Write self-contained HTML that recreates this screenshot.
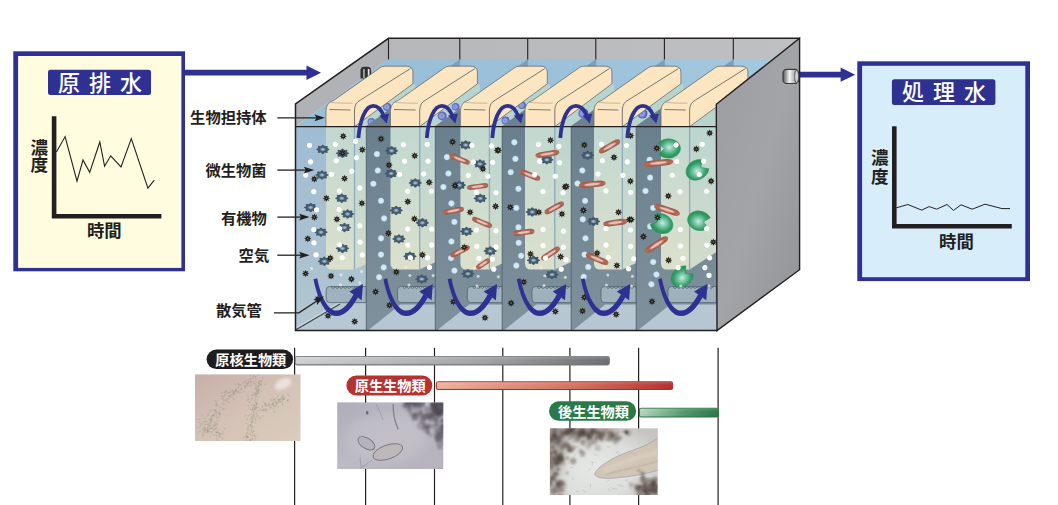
<!DOCTYPE html>
<html lang="ja"><head><meta charset="utf-8"><title>生物処理フロー</title>
<style>
html,body{margin:0;padding:0;background:#fff;overflow:hidden}
svg{display:block}
text{font-family:"Liberation Sans","Noto Sans CJK JP",sans-serif;font-weight:bold}
</style></head><body>
<svg width="1058" height="505" viewBox="0 0 1058 505">
<defs>
<linearGradient id="gWater" x1="0" y1="0" x2="0" y2="1"><stop offset="0" stop-color="#9fbcd4"/><stop offset="1" stop-color="#b3c5d0"/></linearGradient>
<linearGradient id="gSurf" gradientUnits="userSpaceOnUse" x1="295" y1="0" x2="800" y2="0"><stop offset="0" stop-color="#97bdd7"/><stop offset="0.55" stop-color="#9cc1da"/><stop offset="1" stop-color="#a5c9df"/></linearGradient>
<linearGradient id="gBlock" x1="0" y1="0" x2="0" y2="1"><stop offset="0" stop-color="#c1d8d0"/><stop offset="1" stop-color="#dbe0cc"/></linearGradient>
<linearGradient id="gSide" x1="0" y1="0" x2="0" y2="1"><stop offset="0" stop-color="#bbd5d0"/><stop offset="1" stop-color="#d3dccb"/></linearGradient>
<linearGradient id="gPart" x1="0" y1="0" x2="0" y2="1"><stop offset="0" stop-color="#6a7f8d"/><stop offset="1" stop-color="#7f919c"/></linearGradient>
<linearGradient id="gRWall" x1="0" y1="0" x2="1" y2="1"><stop offset="0" stop-color="#9c9da0"/><stop offset="0.5" stop-color="#a3a4a7"/><stop offset="1" stop-color="#929396"/></linearGradient>
<linearGradient id="gBack" x1="0" y1="0" x2="1" y2="0"><stop offset="0" stop-color="#b6b7ba"/><stop offset="1" stop-color="#bfc0c3"/></linearGradient>
<linearGradient id="gBarGray" x1="0" y1="0" x2="1" y2="0"><stop offset="0" stop-color="#cfd1d2"/><stop offset="0.6" stop-color="#a2a4a6"/><stop offset="1" stop-color="#6d6e71"/></linearGradient>
<linearGradient id="gBarRed" x1="0" y1="0" x2="1" y2="0"><stop offset="0" stop-color="#eeb39f"/><stop offset="0.6" stop-color="#d4705e"/><stop offset="1" stop-color="#b52f2e"/></linearGradient>
<linearGradient id="gBarGreen" x1="0" y1="0" x2="1" y2="0"><stop offset="0" stop-color="#b5d7bf"/><stop offset="0.6" stop-color="#4f9467"/><stop offset="1" stop-color="#27774a"/></linearGradient>
<linearGradient id="gBarShade" x1="0" y1="0" x2="0" y2="1"><stop offset="0" stop-color="#fff" stop-opacity="0.16"/><stop offset="0.45" stop-color="#fff" stop-opacity="0"/><stop offset="1" stop-color="#000" stop-opacity="0.07"/></linearGradient>
<radialGradient id="gGear" cx="0.5" cy="0.5" r="0.5"><stop offset="0" stop-color="#b4d6ea"/><stop offset="0.22" stop-color="#9fc3da"/><stop offset="0.5" stop-color="#5d7a91"/><stop offset="1" stop-color="#506b81"/></radialGradient>
<radialGradient id="gGearIn" cx="0.5" cy="0.5" r="0.5"><stop offset="0" stop-color="#b0cfe1"/><stop offset="0.4" stop-color="#88a8bd"/><stop offset="0.85" stop-color="#4f6578"/><stop offset="1" stop-color="#44596b"/></radialGradient>
<radialGradient id="gBub" cx="0.5" cy="0.5" r="0.5"><stop offset="0" stop-color="#fff"/><stop offset="0.7" stop-color="#fff"/><stop offset="1" stop-color="#fff" stop-opacity="0"/></radialGradient>
<radialGradient id="gBub2" cx="0.5" cy="0.5" r="0.5"><stop offset="0" stop-color="#d6eefb"/><stop offset="0.65" stop-color="#cbe6f6"/><stop offset="1" stop-color="#cbe6f6" stop-opacity="0"/></radialGradient>
<radialGradient id="gGreen" cx="0.5" cy="0.55" r="0.55"><stop offset="0" stop-color="#c9ece6"/><stop offset="0.3" stop-color="#86cdb0"/><stop offset="0.75" stop-color="#319c64"/><stop offset="1" stop-color="#2a9159"/></radialGradient>
<linearGradient id="gRod" x1="0" y1="0" x2="0" y2="1"><stop offset="0" stop-color="#a25644"/><stop offset="0.5" stop-color="#b56c5a"/><stop offset="1" stop-color="#a25644"/></linearGradient>
<radialGradient id="gSph" cx="0.45" cy="0.5" r="0.55"><stop offset="0" stop-color="#7683d2"/><stop offset="0.4" stop-color="#98a4e2"/><stop offset="0.7" stop-color="#6571c8"/><stop offset="1" stop-color="#4753b3"/></radialGradient>
<linearGradient id="gPipeS" x1="0" y1="0" x2="1" y2="0"><stop offset="0" stop-color="#58595b"/><stop offset="0.42" stop-color="#f4f4f4"/><stop offset="0.75" stop-color="#a9aaac"/><stop offset="1" stop-color="#6b6c6e"/></linearGradient>
<linearGradient id="gPh1" x1="0" y1="0" x2="1" y2="1"><stop offset="0" stop-color="#c7afa9"/><stop offset="0.5" stop-color="#d4c2b6"/><stop offset="1" stop-color="#d9cdbb"/></linearGradient>
<linearGradient id="gPh2" x1="0" y1="0" x2="1" y2="1"><stop offset="0" stop-color="#aeadb9"/><stop offset="0.5" stop-color="#bcbac4"/><stop offset="1" stop-color="#b7b2bb"/></linearGradient>
<radialGradient id="gPh3" cx="0.42" cy="0.6" r="0.7"><stop offset="0" stop-color="#e6e8e5"/><stop offset="0.6" stop-color="#dcdedb"/><stop offset="1" stop-color="#c6c5c2"/></radialGradient>
<filter id="blur1" x="-20%" y="-20%" width="140%" height="140%"><feGaussianBlur stdDeviation="1.6"/></filter>
<filter id="blur3" x="-30%" y="-30%" width="160%" height="160%"><feGaussianBlur stdDeviation="5"/></filter>
<filter id="blur08" x="-30%" y="-30%" width="160%" height="160%"><feGaussianBlur stdDeviation="0.9"/></filter>
<filter id="gblur1" filterUnits="userSpaceOnUse" x="330" y="395" width="125" height="85"><feGaussianBlur stdDeviation="1.1"/></filter>
<filter id="gblur08" filterUnits="userSpaceOnUse" x="540" y="420" width="130" height="85"><feGaussianBlur stdDeviation="0.9"/></filter>
<filter id="blur05" x="-20%" y="-20%" width="140%" height="140%"><feGaussianBlur stdDeviation="0.5"/></filter>

<g id="gear"><path d="M6.7 0 L6.4 0.4 L5.7 0.8 L5 1.1 L4.6 1.3 L4.6 1.7 L4.8 2.3 L5 2.9 L4.7 3.3 L4.1 3.5 L3.2 3.4 L2.4 3.2 L1.9 3.2 L1.5 3.5 L1.1 4 L0.6 4.5 L0 4.7 L-0.6 4.5 L-1.1 4 L-1.5 3.5 L-1.9 3.2 L-2.4 3.2 L-3.2 3.4 L-4.1 3.5 L-4.7 3.3 L-5 2.9 L-4.8 2.3 L-4.6 1.7 L-4.6 1.3 L-5 1.1 L-5.7 0.8 L-6.4 0.4 L-6.7 0 L-6.4 -0.4 L-5.7 -0.8 L-5 -1.1 L-4.6 -1.3 L-4.6 -1.7 L-4.8 -2.3 L-5 -2.9 L-4.7 -3.3 L-4.1 -3.5 L-3.2 -3.4 L-2.4 -3.2 L-1.9 -3.2 L-1.5 -3.5 L-1.1 -4 L-0.6 -4.5 L-0 -4.7 L0.6 -4.5 L1.1 -4 L1.5 -3.5 L1.9 -3.2 L2.4 -3.2 L3.2 -3.4 L4.1 -3.5 L4.7 -3.3 L5 -2.9 L4.8 -2.3 L4.6 -1.7 L4.6 -1.3 L5 -1.1 L5.7 -0.8 L6.4 -0.4 L6.7 -0Z" fill="#44596b"/><ellipse rx="3.3" ry="2.3" fill="url(#gGearIn)"/></g>
<g id="star"><path d="M0 -3.8 L0.8 -1.8 L2.7 -2.7 L1.8 -0.8 L3.8 0 L1.8 0.8 L2.7 2.7 L0.8 1.8 L0 3.8 L-0.8 1.8 L-2.7 2.7 L-1.8 0.8 L-3.8 0 L-1.8 -0.8 L-2.7 -2.7 L-0.8 -1.8Z" fill="#1f1d1c"/><circle r="0.8" fill="#93863a"/></g>
<circle id="bub" r="3.1" fill="url(#gBub)"/>
<circle id="bub2" r="3.6" fill="url(#gBub2)"/>
<g id="rod"><rect x="-13.5" y="-2.6" width="27" height="5.2" rx="6" ry="2.6" fill="url(#gRod)"/><ellipse rx="8" ry="1.25" fill="#f0dbd4" opacity="0.8" filter="url(#blur05)"/></g>
<g id="pac"><path d="M5 -0.3 L10.5 -5.9 A12 9.7 0 1 0 11.1 4.9 Z" fill="url(#gGreen)" stroke="#2a9159" stroke-width="0.5" stroke-linejoin="round"/></g>
<clipPath id="clipFront"><rect x="295.5" y="126.6" width="420.8" height="204"/></clipPath>
</defs>
<rect width="1058" height="505" fill="#ffffff"/>
<rect x="13.3" y="51.3" width="171.7" height="220" fill="#2e3192"/>
<rect x="18.1" y="56" width="163.3" height="211.9" fill="#fffce0"/>
<rect x="48" y="69.7" width="103" height="25.3" rx="2.5" fill="#2e3192"/>
<text x="104.5" y="90.5" font-size="22" fill="#fff" text-anchor="middle" letter-spacing="9" style="font-weight:500">原排水</text>
<path d="M54.1 116.2 V216.3 H161.4" fill="none" stroke="#231f20" stroke-width="4.6"/>
<polyline points="56.4,151.9 65.1,136.6 77,181.2 83,160 89.7,172.3 99.8,142 104.6,166.3 110.7,155.8 121,166.9 131.3,138.6 147.9,188.1 154.3,180.2" fill="none" stroke="#231f20" stroke-width="1.1"/>
<text x="39.3" y="154.2" font-size="17.6" fill="#231f20" text-anchor="middle">濃</text>
<text x="39.3" y="171.4" font-size="17.6" fill="#231f20" text-anchor="middle">度</text>
<text x="104.3" y="237.4" font-size="17.4" fill="#231f20" text-anchor="middle">時間</text>
<rect x="857.3" y="61.3" width="172.7" height="219.8" fill="#2e3192"/>
<rect x="862.1" y="65.8" width="163.2" height="211.4" fill="#d7edfa"/>
<rect x="891.9" y="79.3" width="103.5" height="25.7" rx="2.5" fill="#2e3192"/>
<text x="948.6" y="100.1" font-size="22" fill="#fff" text-anchor="middle" letter-spacing="9" style="font-weight:500">処理水</text>
<path d="M894.3 126.2 V226.3 H1011.8" fill="none" stroke="#231f20" stroke-width="4.6"/>
<polyline points="896.5,207.8 907.8,204.5 921.7,210.1 929.2,206.6 936.6,209.2 947,204.5 953.5,210.4 961,204.8 972.2,209.2 985,204.2 1002,208.6 1010,208.6" fill="none" stroke="#231f20" stroke-width="1"/>
<text x="879.9" y="163.8" font-size="17.6" fill="#231f20" text-anchor="middle">濃</text>
<text x="879.9" y="182.5" font-size="17.6" fill="#231f20" text-anchor="middle">度</text>
<text x="956.4" y="247.6" font-size="17.4" fill="#231f20" text-anchor="middle">時間</text>
<path d="M185 69.8 H306.5 V65.5 L321 72.7 L306.5 79.9 V75.6 H185Z" fill="#2e3192"/>
<path d="M800 71.8 H840.6 V67.6 L855.2 74.7 L840.6 81.8 V77.6 H800Z" fill="#2e3192"/>
<g id="tank">
<rect x="388.5" y="38.3" width="411.1" height="21.2" fill="url(#gBack)"/>
<polygon points="295.5,104 388.5,38.3 388.5,59.5 295.5,126.6" fill="#b1b2b5"/>
<polygon points="295.5,126.6 388.5,59.1 799.6,59.1 716.3,126.6" fill="url(#gSurf)"/>
<polygon points="460.2,58.9 460.2,67 449,67" fill="#7da0b8"/>
<line x1="459.8" y1="38.3" x2="459.8" y2="59.6" stroke="#231f20" stroke-width="1.1"/>
<polygon points="528.1,58.9 528.1,67 516.9,67" fill="#7da0b8"/>
<line x1="527.7" y1="38.3" x2="527.7" y2="59.6" stroke="#231f20" stroke-width="1.1"/>
<polygon points="596.2,58.9 596.2,67 585,67" fill="#7da0b8"/>
<line x1="595.8" y1="38.3" x2="595.8" y2="59.6" stroke="#231f20" stroke-width="1.1"/>
<polygon points="664.8,58.9 664.8,67 653.6,67" fill="#7da0b8"/>
<line x1="664.4" y1="38.3" x2="664.4" y2="59.6" stroke="#231f20" stroke-width="1.1"/>
<polygon points="733.7,58.9 733.7,67 722.5,67" fill="#7da0b8"/>
<line x1="733.3" y1="38.3" x2="733.3" y2="59.6" stroke="#231f20" stroke-width="1.1"/>
<line x1="388.5" y1="38.3" x2="388.5" y2="59.4" stroke="#231f20" stroke-width="1.1"/>
<g transform="translate(365.8 72.6)"><path d="M-5.3 6 V-2.2 Q-5.3 -5.9 -1.4 -5.9 H1.6 Q5.3 -5.9 5.3 -2.2 V6Z" fill="#2f2f31"/><rect x="-2.6" y="-3.6" width="1.5" height="9" fill="#b9b9bb"/><rect x="2" y="-3.6" width="1.7" height="9" fill="#e9e9ea"/></g>
<polygon points="354.5,126.6 412.9,83.8 415.4,84.8 415.4,92.2 366.3,126.6" fill="#b8d4ce"/>
<circle cx="387.1" cy="106.9" r="4.2" fill="url(#gSph)"/>
<circle cx="371.3" cy="121.7" r="3.8" fill="url(#gSph)"/>
<polygon points="365.5,126.6 390.5,108.6 390.5,126.6" fill="#6c818f"/>
<path d="M326 126.6 V110.5 Q326.4 102.2 334 100.2 L379.2 68.4 Q381.8 66.2 384.8 66.2 H406.5 Q412.9 66.6 412.9 72 V83.8 L354.5 126.6 Z" fill="#fce6c2" stroke="#5d5e60" stroke-width="0.7" stroke-linejoin="round"/>
<path d="M354.5 126.6 V110 Q354.8 102.5 360.5 100 L410.4 68.6" fill="none" stroke="#55585c" stroke-width="0.8"/>
<path d="M329 102.3 Q341 103.4 352.5 103.2" fill="none" stroke="#9a958c" stroke-width="0.6"/>
<line x1="329.5" y1="109.5" x2="350.5" y2="110" stroke="#5d5e60" stroke-width="0.8"/>
<polygon points="419.7,126.6 477.4,83.8 479.9,84.8 479.9,95.4 435.3,126.6" fill="#b8d4ce"/>
<circle cx="455.6" cy="106.8" r="3.8" fill="url(#gSph)"/>
<circle cx="442.1" cy="115.9" r="4.5" fill="url(#gSph)"/>
<polygon points="434.5,126.6 460.4,108 460.4,126.6" fill="#6c818f"/>
<path d="M390.5 126.6 V110.5 Q390.9 102.2 398.5 100.2 L443.7 68.4 Q446.3 66.2 449.3 66.2 H471 Q477.4 66.6 477.4 72 V83.8 L419.7 126.6 Z" fill="#fce6c2" stroke="#5d5e60" stroke-width="0.7" stroke-linejoin="round"/>
<path d="M419.7 126.6 V110 Q420 102.5 425.7 100 L474.9 68.6" fill="none" stroke="#55585c" stroke-width="0.8"/>
<path d="M393.5 102.3 Q405.5 103.4 417.7 103.2" fill="none" stroke="#9a958c" stroke-width="0.6"/>
<line x1="394" y1="109.5" x2="415.7" y2="110" stroke="#5d5e60" stroke-width="0.8"/>
<polygon points="489.4,126.6 547.3,83.8 549.8,84.8 549.8,93.3 502.2,126.6" fill="#b8d4ce"/>
<circle cx="522" cy="105.3" r="3.8" fill="url(#gSph)"/>
<circle cx="505.5" cy="120.6" r="4" fill="url(#gSph)"/>
<polygon points="501.4,126.6 525,109.6 525,126.6" fill="#6c818f"/>
<path d="M460.4 126.6 V110.5 Q460.8 102.2 468.4 100.2 L513.6 68.4 Q516.2 66.2 519.2 66.2 H540.9 Q547.3 66.6 547.3 72 V83.8 L489.4 126.6 Z" fill="#fce6c2" stroke="#5d5e60" stroke-width="0.7" stroke-linejoin="round"/>
<path d="M489.4 126.6 V110 Q489.7 102.5 495.4 100 L544.8 68.6" fill="none" stroke="#55585c" stroke-width="0.8"/>
<path d="M463.4 102.3 Q475.4 103.4 487.4 103.2" fill="none" stroke="#9a958c" stroke-width="0.6"/>
<line x1="463.9" y1="109.5" x2="485.4" y2="110" stroke="#5d5e60" stroke-width="0.8"/>
<polygon points="554.8,126.6 611.9,83.8 614.4,84.8 614.4,96.4 571.2,126.6" fill="#b8d4ce"/>
<circle cx="583.4" cy="113.4" r="5" fill="url(#gSph)"/>
<polygon points="570.4,126.6 594,109.6 594,126.6" fill="#6c818f"/>
<path d="M525 126.6 V110.5 Q525.4 102.2 533 100.2 L578.2 68.4 Q580.8 66.2 583.8 66.2 H605.5 Q611.9 66.6 611.9 72 V83.8 L554.8 126.6 Z" fill="#fce6c2" stroke="#5d5e60" stroke-width="0.7" stroke-linejoin="round"/>
<path d="M554.8 126.6 V110 Q555.1 102.5 560.8 100 L609.4 68.6" fill="none" stroke="#55585c" stroke-width="0.8"/>
<path d="M528 102.3 Q540 103.4 552.8 103.2" fill="none" stroke="#9a958c" stroke-width="0.6"/>
<line x1="528.5" y1="109.5" x2="550.8" y2="110" stroke="#5d5e60" stroke-width="0.8"/>
<polygon points="622.3,126.6 680.9,83.8 683.4,84.8 683.4,93.6 636.2,126.6" fill="#b8d4ce"/>
<circle cx="642.4" cy="113.6" r="5" fill="url(#gSph)"/>
<polygon points="635.4,126.6 661,108.2 661,126.6" fill="#6c818f"/>
<path d="M594 126.6 V110.5 Q594.4 102.2 602 100.2 L647.2 68.4 Q649.8 66.2 652.8 66.2 H674.5 Q680.9 66.6 680.9 72 V83.8 L622.3 126.6 Z" fill="#fce6c2" stroke="#5d5e60" stroke-width="0.7" stroke-linejoin="round"/>
<path d="M622.3 126.6 V110 Q622.6 102.5 628.3 100 L678.4 68.6" fill="none" stroke="#55585c" stroke-width="0.8"/>
<path d="M597 102.3 Q609 103.4 620.3 103.2" fill="none" stroke="#9a958c" stroke-width="0.6"/>
<line x1="597.5" y1="109.5" x2="618.3" y2="110" stroke="#5d5e60" stroke-width="0.8"/>
<polygon points="689.6,126.6 747.9,83.8 750.4,84.8 750.4,102.7 716.3,126.6" fill="#b8d4ce"/>
<path d="M661 126.6 V110.5 Q661.4 102.2 669 100.2 L714.2 68.4 Q716.8 66.2 719.8 66.2 H741.5 Q747.9 66.6 747.9 72 V83.8 L689.6 126.6 Z" fill="#fce6c2" stroke="#5d5e60" stroke-width="0.7" stroke-linejoin="round"/>
<path d="M689.6 126.6 V110 Q689.9 102.5 695.6 100 L745.4 68.6" fill="none" stroke="#55585c" stroke-width="0.8"/>
<path d="M664 102.3 Q676 103.4 687.6 103.2" fill="none" stroke="#9a958c" stroke-width="0.6"/>
<line x1="664.5" y1="109.5" x2="685.6" y2="110" stroke="#5d5e60" stroke-width="0.8"/>
<rect x="295.5" y="126.6" width="420.8" height="203.9" fill="url(#gWater)"/>
<polygon points="295.5,330.5 340,304 366.3,304 366.3,330.5" fill="#b7c8d2"/>
<polyline points="295.5,328.2 340,302.4" fill="none" stroke="#cfdae1" stroke-width="1.2"/>
<polyline points="295.5,330 340,304" fill="none" stroke="#3c454c" stroke-width="1.1"/>
<path d="M329.7 286.5 H366.3 V302.6 H329.7 Q326.2 302.6 326.2 299 V290 Q326.2 286.5 329.7 286.5Z" fill="#9eb1bd" stroke="#56666f" stroke-width="0.8"/>
<path d="M331.2 287 q2 3 4 0 q2 3 4 0 q2 3 4 0 q2 3 4 0 q2 3 4 0 q2 3 4 0 q2 3 4 0 q2 3 4 0" fill="none" stroke="#55656f" stroke-width="0.8"/>
<polygon points="354.5,126.6 366.3,126.6 366.3,264.1 354.5,269.5" fill="url(#gSide)"/>
<path d="M326 126.6 H354.5 V269.5 H332 Q326 269.5 326 263.5 Z" fill="url(#gBlock)"/>
<line x1="354.5" y1="126.6" x2="354.5" y2="269.5" stroke="#8eabbc" stroke-width="1.3"/>
<rect x="366.3" y="126.6" width="69" height="203.9" fill="url(#gPart)"/>
<polygon points="367.8,330.5 400.3,304.6 435.3,304.6 435.3,330.5" fill="#b6c7d1"/>
<path d="M401 286.5 H435.3 V302.6 H401 Q397.5 302.6 397.5 299 V290 Q397.5 286.5 401 286.5Z" fill="#9eb1bd" stroke="#56666f" stroke-width="0.8"/>
<path d="M402.5 287 q2 3 4 0 q2 3 4 0 q2 3 4 0 q2 3 4 0 q2 3 4 0 q2 3 4 0 q2 3 4 0 q2 3 4 0" fill="none" stroke="#55656f" stroke-width="0.8"/>
<polygon points="419.7,126.6 435.3,126.6 435.3,262.3 419.7,269.5" fill="url(#gSide)"/>
<path d="M390.5 126.6 H419.7 V269.5 H396.5 Q390.5 269.5 390.5 263.5 Z" fill="url(#gBlock)"/>
<line x1="419.7" y1="126.6" x2="419.7" y2="269.5" stroke="#8eabbc" stroke-width="1.3"/>
<line x1="366.3" y1="126.6" x2="366.3" y2="330.5" stroke="#4a5a65" stroke-width="0.8"/>
<rect x="435.3" y="126.6" width="66.9" height="203.9" fill="url(#gPart)"/>
<polygon points="436.8,330.5 469.3,304.6 502.2,304.6 502.2,330.5" fill="#b6c7d1"/>
<path d="M470.9 286.5 H502.2 V302.6 H470.9 Q467.4 302.6 467.4 299 V290 Q467.4 286.5 470.9 286.5Z" fill="#9eb1bd" stroke="#56666f" stroke-width="0.8"/>
<path d="M472.4 287 q2 3 4 0 q2 3 4 0 q2 3 4 0 q2 3 4 0 q2 3 4 0 q2 3 4 0 q2 3 4 0" fill="none" stroke="#55656f" stroke-width="0.8"/>
<polygon points="489.4,126.6 502.2,126.6 502.2,263.6 489.4,269.5" fill="url(#gSide)"/>
<path d="M460.4 126.6 H489.4 V269.5 H466.4 Q460.4 269.5 460.4 263.5 Z" fill="url(#gBlock)"/>
<line x1="489.4" y1="126.6" x2="489.4" y2="269.5" stroke="#8eabbc" stroke-width="1.3"/>
<line x1="435.3" y1="126.6" x2="435.3" y2="330.5" stroke="#4a5a65" stroke-width="0.8"/>
<rect x="502.2" y="126.6" width="69" height="203.9" fill="url(#gPart)"/>
<polygon points="503.7,330.5 536.2,304.6 571.2,304.6 571.2,330.5" fill="#b6c7d1"/>
<path d="M535.5 286.5 H571.2 V302.6 H535.5 Q532 302.6 532 299 V290 Q532 286.5 535.5 286.5Z" fill="#9eb1bd" stroke="#56666f" stroke-width="0.8"/>
<path d="M537 287 q2 3 4 0 q2 3 4 0 q2 3 4 0 q2 3 4 0 q2 3 4 0 q2 3 4 0 q2 3 4 0 q2 3 4 0" fill="none" stroke="#55656f" stroke-width="0.8"/>
<polygon points="554.8,126.6 571.2,126.6 571.2,262 554.8,269.5" fill="url(#gSide)"/>
<path d="M525 126.6 H554.8 V269.5 H531 Q525 269.5 525 263.5 Z" fill="url(#gBlock)"/>
<line x1="554.8" y1="126.6" x2="554.8" y2="269.5" stroke="#8eabbc" stroke-width="1.3"/>
<line x1="502.2" y1="126.6" x2="502.2" y2="330.5" stroke="#4a5a65" stroke-width="0.8"/>
<rect x="571.2" y="126.6" width="65" height="203.9" fill="url(#gPart)"/>
<polygon points="572.7,330.5 605.2,304.6 636.2,304.6 636.2,330.5" fill="#b6c7d1"/>
<path d="M604.5 286.5 H636.2 V302.6 H604.5 Q601 302.6 601 299 V290 Q601 286.5 604.5 286.5Z" fill="#9eb1bd" stroke="#56666f" stroke-width="0.8"/>
<path d="M606 287 q2 3 4 0 q2 3 4 0 q2 3 4 0 q2 3 4 0 q2 3 4 0 q2 3 4 0 q2 3 4 0" fill="none" stroke="#55656f" stroke-width="0.8"/>
<polygon points="622.3,126.6 636.2,126.6 636.2,263.1 622.3,269.5" fill="url(#gSide)"/>
<path d="M594 126.6 H622.3 V269.5 H600 Q594 269.5 594 263.5 Z" fill="url(#gBlock)"/>
<line x1="622.3" y1="126.6" x2="622.3" y2="269.5" stroke="#8eabbc" stroke-width="1.3"/>
<line x1="571.2" y1="126.6" x2="571.2" y2="330.5" stroke="#4a5a65" stroke-width="0.8"/>
<rect x="636.2" y="126.6" width="80.1" height="203.9" fill="url(#gPart)"/>
<polygon points="637.7,330.5 670.2,304.6 716.3,304.6 716.3,330.5" fill="#b6c7d1"/>
<path d="M671.5 286.5 H716.3 V302.6 H671.5 Q668 302.6 668 299 V290 Q668 286.5 671.5 286.5Z" fill="#9eb1bd" stroke="#56666f" stroke-width="0.8"/>
<path d="M673 287 q2 3 4 0 q2 3 4 0 q2 3 4 0 q2 3 4 0 q2 3 4 0 q2 3 4 0 q2 3 4 0 q2 3 4 0 q2 3 4 0 q2 3 4 0" fill="none" stroke="#55656f" stroke-width="0.8"/>
<polygon points="689.6,126.6 716.3,126.6 716.3,252.1 689.6,269.5" fill="url(#gSide)"/>
<path d="M661 126.6 H689.6 V269.5 H667 Q661 269.5 661 263.5 Z" fill="url(#gBlock)"/>
<line x1="689.6" y1="126.6" x2="689.6" y2="269.5" stroke="#8eabbc" stroke-width="1.3"/>
<line x1="636.2" y1="126.6" x2="636.2" y2="330.5" stroke="#4a5a65" stroke-width="0.8"/>
</g>
<polygon points="716.3,104.3 799.6,38.3 799.6,269.7 717,330.5" fill="url(#gRWall)" stroke="#231f20" stroke-width="1.4" stroke-linejoin="miter"/>
<path d="M295.5 330.5 V104 L388.5 38.3 H799.6" fill="none" stroke="#231f20" stroke-width="1.5"/>
<line x1="294.8" y1="330.5" x2="717.6" y2="330.5" stroke="#231f20" stroke-width="1.6"/>
<line x1="295.5" y1="126.6" x2="716.3" y2="126.6" stroke="#231f20" stroke-width="1.2"/>
<rect x="783" y="69.3" width="15.6" height="14.2" rx="3.8" fill="url(#gPipeS)" stroke="#3a3a3c" stroke-width="1.2"/>
<ellipse cx="796.6" cy="76.4" rx="1.9" ry="6.3" fill="#d4d4d5" stroke="#4a4a4c" stroke-width="0.8"/>
<g clip-path="url(#clipFront)">
<use href="#bub2" x="376.9" y="154.1"/>
<use href="#bub2" x="377.8" y="170.5"/>
<use href="#bub2" x="373.4" y="183.8"/>
<use href="#bub2" x="381" y="200.8"/>
<use href="#bub2" x="384.1" y="218.4"/>
<use href="#bub2" x="381" y="238.3"/>
<use href="#bub2" x="381" y="254.6"/>
<use href="#bub2" x="383.7" y="267.4"/>
<use href="#bub2" x="379.1" y="277.2"/>
<use href="#bub2" x="446.9" y="157.1"/>
<use href="#bub2" x="448.4" y="173.5"/>
<use href="#bub2" x="443.4" y="187"/>
<use href="#bub2" x="451.4" y="203.4"/>
<use href="#bub2" x="454.4" y="221.9"/>
<use href="#bub2" x="451.4" y="241.5"/>
<use href="#bub2" x="451" y="258.1"/>
<use href="#bub2" x="454.4" y="270.6"/>
<use href="#bub2" x="514.3" y="142.3"/>
<use href="#bub2" x="515.4" y="158.9"/>
<use href="#bub2" x="510.7" y="172.2"/>
<use href="#bub2" x="518.4" y="188.8"/>
<use href="#bub2" x="516.3" y="207.9"/>
<use href="#bub2" x="518.4" y="227.3"/>
<use href="#bub2" x="518.7" y="242.8"/>
<use href="#bub2" x="521.1" y="255.8"/>
<use href="#bub2" x="516.3" y="265.6"/>
<use href="#bub2" x="582.3" y="170.5"/>
<use href="#bub2" x="577.5" y="183.5"/>
<use href="#bub2" x="585.1" y="200.8"/>
<use href="#bub2" x="582.8" y="219.3"/>
<use href="#bub2" x="585.5" y="238.3"/>
<use href="#bub2" x="584.6" y="254.6"/>
<use href="#bub2" x="588.2" y="267"/>
<use href="#bub2" x="583.7" y="276.8"/>
<use href="#bub2" x="649.6" y="159.8"/>
<use href="#bub2" x="650.1" y="177.6"/>
<use href="#bub2" x="645.5" y="191"/>
<use href="#bub2" x="653.2" y="207.9"/>
<use href="#bub2" x="650.1" y="226.4"/>
<use href="#bub2" x="653.2" y="262"/>
<use href="#bub2" x="656.4" y="274.5"/>
<use href="#bub2" x="651.4" y="284.3"/>
<use href="#gear" x="322.8" y="149.4"/>
<use href="#gear" x="342.5" y="153.3"/>
<use href="#gear" x="322" y="175"/>
<use href="#gear" x="341.8" y="198.3"/>
<use href="#gear" x="310.6" y="207.5"/>
<use href="#gear" x="347.6" y="214"/>
<use href="#gear" x="344.5" y="227.6"/>
<use href="#gear" x="321" y="232.2"/>
<use href="#gear" x="342.5" y="248.4"/>
<use href="#gear" x="324.4" y="261.3"/>
<use href="#gear" x="391.6" y="150.8"/>
<use href="#gear" x="391.2" y="173.5"/>
<use href="#gear" x="415.3" y="182.9"/>
<use href="#gear" x="396.2" y="210.4"/>
<use href="#gear" x="422.4" y="222.8"/>
<use href="#gear" x="398.9" y="238.9"/>
<use href="#gear" x="409.9" y="256.3"/>
<use href="#gear" x="421.8" y="279.1"/>
<use href="#gear" x="465.7" y="145"/>
<use href="#gear" x="479.9" y="163.9"/>
<use href="#gear" x="459.4" y="185.2"/>
<use href="#gear" x="480.3" y="198.4"/>
<use href="#gear" x="466.5" y="231.4"/>
<use href="#gear" x="490.2" y="251"/>
<use href="#gear" x="467.9" y="273.8"/>
<use href="#gear" x="546.9" y="159.8"/>
<use href="#gear" x="532.2" y="212"/>
<use href="#gear" x="533.5" y="260.3"/>
<use href="#gear" x="552" y="274.6"/>
<use href="#gear" x="587.6" y="155.3"/>
<use href="#gear" x="593.5" y="221.4"/>
<g transform="translate(459.7 159.2) rotate(22) scale(0.8 1.00)"><use href="#rod"/></g>
<g transform="translate(477.7 186.5) rotate(-7) scale(0.8 1.00)"><use href="#rod"/></g>
<g transform="translate(453.4 210.7) rotate(-11) scale(0.8 1.00)"><use href="#rod"/></g>
<g transform="translate(482.1 222.4) rotate(23) scale(0.8 1.00)"><use href="#rod"/></g>
<g transform="translate(460.1 251.4) rotate(-27) scale(0.8 1.00)"><use href="#rod"/></g>
<g transform="translate(483.2 263.8) rotate(-34) scale(0.6 1.00)"><use href="#rod"/></g>
<g transform="translate(547.4 153.9) rotate(-9) scale(0.9 1.08)"><use href="#rod"/></g>
<g transform="translate(530.1 175.2) rotate(22) scale(0.8 1.08)"><use href="#rod"/></g>
<g transform="translate(554.3 207.9) rotate(-29) scale(0.8 1.08)"><use href="#rod"/></g>
<g transform="translate(523.8 232.4) rotate(-8) scale(0.8 1.08)"><use href="#rod"/></g>
<g transform="translate(550.5 253.6) rotate(-33) scale(0.8 1.08)"><use href="#rod"/></g>
<g transform="translate(609.6 146.4) rotate(-30) scale(0.9 1.15)"><use href="#rod"/></g>
<g transform="translate(592.2 184.3) rotate(-6) scale(1 1.15)"><use href="#rod"/></g>
<g transform="translate(615.2 222.7) rotate(-7.7) scale(0.9 1.15)"><use href="#rod"/></g>
<g transform="translate(597.1 258.9) rotate(23) scale(0.9 1.15)"><use href="#rod"/></g>
<g transform="translate(658.5 163) rotate(-6) scale(1.1 1.21)"><use href="#rod"/></g>
<g transform="translate(667 209.9) rotate(18.4) scale(1 1.21)"><use href="#rod"/></g>
<g transform="translate(656.6 244.6) rotate(-33.4) scale(1 1.21)"><use href="#rod"/></g>
<g transform="translate(669.3 148.3) rotate(180)"><use href="#pac"/></g>
<g transform="translate(696.8 170.4) rotate(-32)"><use href="#pac"/></g>
<g transform="translate(662.1 223.7) rotate(205)"><use href="#pac"/></g>
<g transform="translate(698.6 220.7) rotate(15)"><use href="#pac"/></g>
<g transform="translate(681.7 277.2) rotate(-40)"><use href="#pac"/></g>
<use href="#bub" x="309.5" y="145.3"/>
<use href="#bub" x="310.6" y="161.9"/>
<use href="#bub" x="305.7" y="175.1"/>
<use href="#bub" x="313.8" y="191.7"/>
<use href="#bub" x="335.3" y="144.3"/>
<use href="#bub" x="336.2" y="160.8"/>
<use href="#bub" x="331.4" y="174.4"/>
<use href="#bub" x="339.4" y="191"/>
<use href="#bub" x="355.6" y="141.4"/>
<use href="#bub" x="356.6" y="157.7"/>
<use href="#bub" x="351.8" y="171.2"/>
<use href="#bub" x="359.8" y="188"/>
<use href="#bub" x="316.5" y="209.8"/>
<use href="#bub" x="313.8" y="229.7"/>
<use href="#bub" x="314" y="242.9"/>
<use href="#bub" x="316.1" y="254.9"/>
<use href="#bub" x="339" y="209.6"/>
<use href="#bub" x="339.7" y="228.7"/>
<use href="#bub" x="339.7" y="244.9"/>
<use href="#bub" x="342.2" y="257.7"/>
<use href="#bub" x="359.8" y="225.8"/>
<use href="#bub" x="360" y="242.2"/>
<use href="#bub" x="362.3" y="254.9"/>
<use href="#bub" x="403.3" y="144.6"/>
<use href="#bub" x="404.6" y="161.2"/>
<use href="#bub" x="399.6" y="174.4"/>
<use href="#bub" x="407.6" y="191.3"/>
<use href="#bub" x="427.2" y="144.3"/>
<use href="#bub" x="428.1" y="161.2"/>
<use href="#bub" x="423.6" y="174"/>
<use href="#bub" x="431.3" y="191.3"/>
<use href="#bub" x="407.8" y="229.1"/>
<use href="#bub" x="407.8" y="245.1"/>
<use href="#bub" x="410.4" y="257.9"/>
<use href="#bub" x="431.7" y="229.1"/>
<use href="#bub" x="431.7" y="245.1"/>
<use href="#bub" x="427.7" y="257.9"/>
<use href="#bub" x="429.5" y="267.4"/>
<use href="#bub" x="471.9" y="145.5"/>
<use href="#bub" x="473.3" y="162.1"/>
<use href="#bub" x="468.3" y="175.4"/>
<use href="#bub" x="476.3" y="192.4"/>
<use href="#bub" x="491.5" y="146"/>
<use href="#bub" x="492.7" y="162.4"/>
<use href="#bub" x="487.9" y="176.3"/>
<use href="#bub" x="496" y="192.7"/>
<use href="#bub" x="476.3" y="230"/>
<use href="#bub" x="476.7" y="246.4"/>
<use href="#bub" x="479" y="258.5"/>
<use href="#bub" x="496" y="230.8"/>
<use href="#bub" x="496" y="246.9"/>
<use href="#bub" x="492.4" y="259.4"/>
<use href="#bub" x="493.8" y="269.2"/>
<use href="#bub" x="538.5" y="144.6"/>
<use href="#bub" x="539.8" y="161.5"/>
<use href="#bub" x="534.8" y="174.6"/>
<use href="#bub" x="543" y="191.5"/>
<use href="#bub" x="558.9" y="146.4"/>
<use href="#bub" x="559.7" y="162.8"/>
<use href="#bub" x="555.3" y="176.3"/>
<use href="#bub" x="563" y="192.7"/>
<use href="#bub" x="543" y="229.4"/>
<use href="#bub" x="543" y="245.6"/>
<use href="#bub" x="545.5" y="258.1"/>
<use href="#bub" x="563.3" y="231.2"/>
<use href="#bub" x="563.3" y="247.2"/>
<use href="#bub" x="566" y="259.9"/>
<use href="#bub" x="561.2" y="269.2"/>
<use href="#bub" x="601.5" y="144.3"/>
<use href="#bub" x="602.4" y="160.7"/>
<use href="#bub" x="598" y="174"/>
<use href="#bub" x="606" y="191"/>
<use href="#bub" x="626.5" y="145.5"/>
<use href="#bub" x="627.4" y="161.9"/>
<use href="#bub" x="622.9" y="175.3"/>
<use href="#bub" x="630.6" y="192.4"/>
<use href="#bub" x="606" y="228.7"/>
<use href="#bub" x="606" y="245.1"/>
<use href="#bub" x="608.3" y="257.6"/>
<use href="#bub" x="630.4" y="230"/>
<use href="#bub" x="630.6" y="246.4"/>
<use href="#bub" x="633.6" y="258.8"/>
<use href="#bub" x="628.6" y="268.8"/>
<use href="#bub" x="676" y="145"/>
<use href="#bub" x="702.2" y="144.3"/>
<use href="#bub" x="676.7" y="161.5"/>
<use href="#bub" x="703.6" y="161.2"/>
<use href="#bub" x="672.2" y="175.3"/>
<use href="#bub" x="699.2" y="174.6"/>
<use href="#bub" x="680" y="191.8"/>
<use href="#bub" x="706.6" y="191.3"/>
<use href="#bub" x="680.4" y="229.6"/>
<use href="#bub" x="680.4" y="246"/>
<use href="#bub" x="682.9" y="258.5"/>
<use href="#bub" x="678.1" y="267.7"/>
<use href="#bub" x="706.6" y="228.7"/>
<use href="#bub" x="707" y="245.1"/>
<use href="#bub" x="709.7" y="257.9"/>
<use href="#bub" x="704.9" y="267.7"/>
<use href="#bub" x="709" y="275.4"/>
<circle cx="311.7" cy="268.5" r="1.5" fill="#f3ecec" opacity="0.75"/>
<circle cx="341" cy="274.8" r="1.5" fill="#f3ecec" opacity="0.75"/>
<circle cx="361.6" cy="271.6" r="1.5" fill="#f3ecec" opacity="0.75"/>
<circle cx="340.4" cy="284.8" r="1.5" fill="#f3ecec" opacity="0.75"/>
<circle cx="359.7" cy="282.7" r="1.5" fill="#f3ecec" opacity="0.75"/>
<circle cx="405.8" cy="267.4" r="1.5" fill="#f3ecec" opacity="0.75"/>
<circle cx="409.9" cy="275.4" r="1.5" fill="#f3ecec" opacity="0.75"/>
<circle cx="433.1" cy="275.4" r="1.5" fill="#f3ecec" opacity="0.75"/>
<circle cx="409" cy="285" r="1.5" fill="#f3ecec" opacity="0.75"/>
<circle cx="474.2" cy="268.3" r="1.5" fill="#f3ecec" opacity="0.75"/>
<circle cx="478.1" cy="276.3" r="1.5" fill="#f3ecec" opacity="0.75"/>
<circle cx="498.3" cy="276.8" r="1.5" fill="#f3ecec" opacity="0.75"/>
<circle cx="477" cy="286" r="1.5" fill="#f3ecec" opacity="0.75"/>
<circle cx="541" cy="267.7" r="1.5" fill="#f3ecec" opacity="0.75"/>
<circle cx="544.8" cy="275.8" r="1.5" fill="#f3ecec" opacity="0.75"/>
<circle cx="565.3" cy="277.2" r="1.5" fill="#f3ecec" opacity="0.75"/>
<circle cx="544" cy="285.4" r="1.5" fill="#f3ecec" opacity="0.75"/>
<circle cx="603.9" cy="267" r="1.5" fill="#f3ecec" opacity="0.75"/>
<circle cx="607.8" cy="275.1" r="1.5" fill="#f3ecec" opacity="0.75"/>
<circle cx="632.4" cy="276.3" r="1.5" fill="#f3ecec" opacity="0.75"/>
<circle cx="606.4" cy="285" r="1.5" fill="#f3ecec" opacity="0.75"/>
<circle cx="631.5" cy="286.1" r="1.5" fill="#f3ecec" opacity="0.75"/>
<circle cx="704.6" cy="267.9" r="1.5" fill="#f3ecec" opacity="0.75"/>
<circle cx="680.8" cy="286.1" r="1.5" fill="#f3ecec" opacity="0.75"/>
<circle cx="709.1" cy="286.1" r="1.5" fill="#f3ecec" opacity="0.75"/>
<use href="#star" x="343.2" y="136.2"/>
<use href="#star" x="362.3" y="149.8"/>
<use href="#star" x="342.5" y="153.3"/>
<use href="#star" x="314.3" y="179"/>
<use href="#star" x="344.5" y="178.5"/>
<use href="#star" x="326.4" y="198.2"/>
<use href="#star" x="314.4" y="217.2"/>
<use href="#star" x="336.9" y="219.3"/>
<use href="#star" x="361.9" y="203.3"/>
<use href="#star" x="307.8" y="238.7"/>
<use href="#star" x="330.3" y="258.1"/>
<use href="#star" x="305.6" y="273.5"/>
<use href="#star" x="331" y="276"/>
<use href="#star" x="351.4" y="279.1"/>
<use href="#star" x="317.9" y="299"/>
<use href="#star" x="328" y="315.7"/>
<use href="#star" x="354.7" y="321.5"/>
<use href="#star" x="381" y="138.9"/>
<use href="#star" x="414.7" y="155.7"/>
<use href="#star" x="389.1" y="165.1"/>
<use href="#star" x="429.2" y="182.4"/>
<use href="#star" x="407.8" y="201.6"/>
<use href="#star" x="414.4" y="218.9"/>
<use href="#star" x="388.5" y="233.2"/>
<use href="#star" x="422.4" y="254.9"/>
<use href="#star" x="396.3" y="272"/>
<use href="#star" x="375.6" y="291.8"/>
<use href="#star" x="389.5" y="305.3"/>
<use href="#star" x="452.6" y="141.9"/>
<use href="#star" x="497.4" y="150.3"/>
<use href="#star" x="482.9" y="169"/>
<use href="#star" x="455" y="185.6"/>
<use href="#star" x="495.6" y="206.4"/>
<use href="#star" x="470.1" y="212.2"/>
<use href="#star" x="464.2" y="247.4"/>
<use href="#star" x="453.3" y="301.8"/>
<use href="#star" x="485" y="317.8"/>
<use href="#star" x="550.5" y="140.2"/>
<use href="#star" x="510.3" y="207.2"/>
<use href="#star" x="565.1" y="186.9"/>
<use href="#star" x="538.9" y="212.2"/>
<use href="#star" x="561.9" y="214"/>
<use href="#star" x="530.5" y="254"/>
<use href="#star" x="560.6" y="256.7"/>
<use href="#star" x="523.7" y="282"/>
<use href="#star" x="511.1" y="303.1"/>
<use href="#star" x="555.3" y="311.5"/>
<use href="#star" x="584.3" y="145"/>
<use href="#star" x="630.6" y="135.7"/>
<use href="#star" x="614" y="157.4"/>
<use href="#star" x="630.4" y="181.1"/>
<use href="#star" x="566.4" y="186.5"/>
<use href="#star" x="583.4" y="210.4"/>
<use href="#star" x="618.5" y="212.2"/>
<use href="#star" x="629.5" y="219.6"/>
<use href="#star" x="597.1" y="253.1"/>
<use href="#star" x="616.9" y="265.5"/>
<use href="#star" x="584.4" y="297.4"/>
<use href="#star" x="582.5" y="311"/>
<use href="#star" x="616.1" y="314.4"/>
<use href="#star" x="656.7" y="148.2"/>
<use href="#star" x="709.7" y="133"/>
<use href="#star" x="696.3" y="149"/>
<use href="#star" x="711.1" y="181.1"/>
<use href="#star" x="668.3" y="196"/>
<use href="#star" x="657.6" y="217.5"/>
<use href="#star" x="643.4" y="236.6"/>
<use href="#star" x="713.4" y="242.1"/>
<use href="#star" x="668.6" y="260.2"/>
<use href="#star" x="652" y="301.5"/>
<use href="#star" x="498.4" y="150.3"/>
<use href="#star" x="631.2" y="219.6"/>
</g>
<g transform="translate(315.4 0)"><path d="M-1.9 279.3 C1.8 298 9.5 316.2 21 316 C30 315.9 36.8 307.2 42.6 297.4 L38.4 294 C33.4 302.6 28 310.5 21 310.6 C12.3 310.7 5.3 296 1.8 278.3Z" fill="#2e3192"/><path d="M47.5 284 L46.3 300.2 L34 291.4Z" fill="#2e3192"/></g>
<g transform="translate(385.3 0)"><path d="M-1.9 279.3 C1.8 298 9.5 316.2 21 316 C30 315.9 36.8 307.2 42.6 297.4 L38.4 294 C33.4 302.6 28 310.5 21 310.6 C12.3 310.7 5.3 296 1.8 278.3Z" fill="#2e3192"/><path d="M47.5 284 L46.3 300.2 L34 291.4Z" fill="#2e3192"/></g>
<g transform="translate(449.6 0)"><path d="M-1.9 279.3 C1.8 298 9.5 316.2 21 316 C30 315.9 36.8 307.2 42.6 297.4 L38.4 294 C33.4 302.6 28 310.5 21 310.6 C12.3 310.7 5.3 296 1.8 278.3Z" fill="#2e3192"/><path d="M47.5 284 L46.3 300.2 L34 291.4Z" fill="#2e3192"/></g>
<g transform="translate(518.7 0)"><path d="M-1.9 279.3 C1.8 298 9.5 316.2 21 316 C30 315.9 36.8 307.2 42.6 297.4 L38.4 294 C33.4 302.6 28 310.5 21 310.6 C12.3 310.7 5.3 296 1.8 278.3Z" fill="#2e3192"/><path d="M47.5 284 L46.3 300.2 L34 291.4Z" fill="#2e3192"/></g>
<g transform="translate(582.8 0)"><path d="M-1.9 279.3 C1.8 298 9.5 316.2 21 316 C30 315.9 36.8 307.2 42.6 297.4 L38.4 294 C33.4 302.6 28 310.5 21 310.6 C12.3 310.7 5.3 296 1.8 278.3Z" fill="#2e3192"/><path d="M47.5 284 L46.3 300.2 L34 291.4Z" fill="#2e3192"/></g>
<g transform="translate(660 0)"><path d="M-1.9 279.3 C1.8 298 9.5 316.2 21 316 C30 315.9 36.8 307.2 42.6 297.4 L38.4 294 C33.4 302.6 28 310.5 21 310.6 C12.3 310.7 5.3 296 1.8 278.3Z" fill="#2e3192"/><path d="M47.5 284 L46.3 300.2 L34 291.4Z" fill="#2e3192"/></g>
<path d="M358.4 138 C359.8 120 365.4 105.8 373.3 105.8 C378.3 105.8 381.6 110.5 383.6 115.6" fill="none" stroke="#2e3192" stroke-width="3.8"/>
<path d="M386.6 123.4 L379.4 115.4 L389.2 113.4Z" fill="#2e3192"/>
<path d="M426.8 138 C428.2 120 433.8 105.8 441.9 105.8 C446.9 105.8 450.3 110.5 452.3 115.6" fill="none" stroke="#2e3192" stroke-width="3.8"/>
<path d="M455.3 123.4 L448.1 115.4 L457.9 113.4Z" fill="#2e3192"/>
<path d="M492.3 138 C493.7 120 499.3 105.8 507.5 105.8 C512.5 105.8 516 110.5 518 115.6" fill="none" stroke="#2e3192" stroke-width="3.8"/>
<path d="M521 123.4 L513.8 115.4 L523.6 113.4Z" fill="#2e3192"/>
<path d="M560.3 138 C561.7 120 567.3 105.8 575.9 105.8 C580.9 105.8 584.7 110.5 586.7 115.6" fill="none" stroke="#2e3192" stroke-width="3.8"/>
<path d="M589.7 123.4 L582.5 115.4 L592.3 113.4Z" fill="#2e3192"/>
<path d="M627.3 138 C628.7 120 634.3 105.8 642.7 105.8 C647.7 105.8 651.3 110.5 653.3 115.6" fill="none" stroke="#2e3192" stroke-width="3.8"/>
<path d="M656.3 123.4 L649.1 115.4 L658.9 113.4Z" fill="#2e3192"/>
<text x="266.6" y="122.6" font-size="15.3" fill="#231f20" text-anchor="end">生物担持体</text>
<line x1="277.3" y1="117.8" x2="319" y2="117.8" stroke="#231f20" stroke-width="1.3"/>
<path d="M325 117.8 l-10.5 -3.4 l2 3.4 l-2 3.4z" fill="#231f20"/>
<text x="266.6" y="176.4" font-size="15.3" fill="#231f20" text-anchor="end">微生物菌</text>
<line x1="277.3" y1="170.1" x2="308.3" y2="170.1" stroke="#231f20" stroke-width="1.3"/>
<path d="M314.3 170.1 l-10.5 -3.4 l2 3.4 l-2 3.4z" fill="#231f20"/>
<text x="266.8" y="224.4" font-size="15.3" fill="#231f20" text-anchor="end">有機物</text>
<line x1="277.3" y1="217.1" x2="303.6" y2="217.1" stroke="#231f20" stroke-width="1.3"/>
<path d="M309.6 217.1 l-10.5 -3.4 l2 3.4 l-2 3.4z" fill="#231f20"/>
<text x="269.2" y="261.1" font-size="15.3" fill="#231f20" text-anchor="end">空気</text>
<line x1="277.3" y1="255.2" x2="303.6" y2="255.2" stroke="#231f20" stroke-width="1.3"/>
<path d="M309.6 255.2 l-10.5 -3.4 l2 3.4 l-2 3.4z" fill="#231f20"/>
<text x="261.8" y="316.1" font-size="15.3" fill="#231f20" text-anchor="end">散気管</text>
<polyline points="273.9,312.9 298.9,312.9 318,300.2" fill="none" stroke="#231f20" stroke-width="1.3"/>
<path d="M324 296.2 l-10.6 3.2 l3.4 1.7 l0.2 3.9z" fill="#231f20"/>
<line x1="294.6" y1="347.8" x2="294.6" y2="505" stroke="#231f20" stroke-width="1.2"/>
<line x1="365.6" y1="347.8" x2="365.6" y2="505" stroke="#231f20" stroke-width="1.2"/>
<line x1="434.5" y1="347.8" x2="434.5" y2="505" stroke="#231f20" stroke-width="1.2"/>
<line x1="502.8" y1="347.8" x2="502.8" y2="505" stroke="#231f20" stroke-width="1.2"/>
<line x1="569.9" y1="347.8" x2="569.9" y2="505" stroke="#231f20" stroke-width="1.2"/>
<line x1="638.6" y1="347.8" x2="638.6" y2="505" stroke="#231f20" stroke-width="1.2"/>
<line x1="718.1" y1="347.8" x2="718.1" y2="505" stroke="#231f20" stroke-width="1.2"/>
<rect x="295.3" y="356.5" width="314" height="8.4" rx="1.8" fill="url(#gBarGray)" stroke="#7d7f82" stroke-width="1.1"/>
<rect x="295.3" y="356.5" width="314" height="8.4" rx="2" fill="url(#gBarShade)"/>
<rect x="436.4" y="381.8" width="236.2" height="7.7" rx="1.8" fill="url(#gBarRed)" stroke="#b63231" stroke-width="1.1"/>
<rect x="436.4" y="381.8" width="236.2" height="7.7" rx="2" fill="url(#gBarShade)"/>
<rect x="639.4" y="408.2" width="78.8" height="8.8" rx="1.8" fill="url(#gBarGreen)" stroke="#2a7a49" stroke-width="1.1"/>
<rect x="639.4" y="408.2" width="78.8" height="8.8" rx="2" fill="url(#gBarShade)"/>
<rect x="195" y="374.4" width="105.5" height="66.6" fill="url(#gPh1)"/>
<rect x="337.2" y="402.4" width="106.1" height="66.6" fill="url(#gPh2)"/>
<rect x="549.7" y="428.3" width="108.1" height="66.7" fill="url(#gPh3)"/>
<clipPath id="cp1"><rect x="195" y="374.4" width="105.5" height="66.9"/></clipPath>
<clipPath id="cp2"><rect x="336.9" y="402.4" width="106.4" height="66.9"/></clipPath>
<clipPath id="cp3"><rect x="550" y="428.2" width="107.5" height="66.8"/></clipPath>
<g clip-path="url(#cp1)">
<ellipse cx="283" cy="384" rx="9" ry="5" fill="#f0e9e6" opacity="0.8" filter="url(#blur1)" transform="rotate(-25 283 384)"/>
<path d="M213.9 425.9l1.1 0.2M214.4 414.2l-0 1.1M202.4 432.2l1.1 0.3M213.7 415.4l0.8 0.7M222.6 408l0.4 1M233.3 399.2l0.7 0.9M208.9 430.1l-0.9 0.6M202 423.4l0.4 1M216.9 413.3l0.9 0.7M215.4 409.4l-0.3 1.1M211.2 423.2l-0.6 0.9M204.1 421.7l-1 0.4M217 417.2l1 0.4M212.7 415.2l0 1.1M200.5 425.4l-0.2 1.1M220.7 406.5l-0.3 1.1M208.7 413.7l-1.1 0.2M213.2 414.2l-0.6 0.9M225.5 408.7l0.7 0.9M211.4 418l0.1 1.1M207.9 427.7l-0.8 0.7M206 432.3l-1 0.4M199.9 431.7l-1 0.4M224 400.2l0.3 1.1M219 412.8l1 0.5M207.4 429.5l0.1 1.1M216.5 411.6l0.3 1.1M202.2 415.2l-0.6 0.9M210.3 409.8l1.1 0.2M225.3 391.5l-0.9 0.7M210.5 419.6l-0.4 1M207 431.9l1 0.5M210.9 420.4l1 0.5M204.7 430l-1 0.4M219 412.8l0.5 1M217.1 425.1l-1.1 0M212 415.9l1 0.3M210.2 428l1 0.5M208.3 430.6l1 0.5M220.5 413.8l-1.1 0.1M221.8 398l0.4 1M207.5 421.8l-0.8 0.7M211.9 428.2l-1.1 0.1M225.2 394.3l-0.8 0.8M204.4 424.2l1.1 0.1M203.1 435.1l-0.6 0.9M215.8 400.8l-1.1 0M223 399.9l0.8 0.7M209.2 431.3l-1 0.3M216.4 402.7l-0.9 0.6M200.1 422.2l-0.9 0.7M217.7 405.6l-0.9 0.7M214.1 410.2l0.4 1M218.5 416l0.9 0.6M211.1 435.6l-0.9 0.6M211.7 417.3l-0.5 1M209 419.4l1.1 0M222.4 393l-1.1 0.2M218.3 411.4l0.9 0.7M208 426.6l-0.3 1.1M207.1 424.5l-1.1 0.3M205.9 421.3l-1.1 0.3M216.9 415l-0.1 1.1M219.5 414.2l0.9 0.6M203.9 430.4l0.1 1.1M216.2 404.9l-0.1 1.1M216.2 410.5l-0.2 1.1M207.5 430.8l-0 1.1M216.5 403.1l0.2 1.1M212.1 410.2l-0.6 0.9M208.8 415.3l-1.1 0.2M226.1 400.2l0.8 0.8M223.3 409.5l1 0.5M204.3 429.1l0.8 0.8M201.2 424l-1 0.4M205.3 421.4l1 0.5M226.1 399.7l-1.1 0.2M199.7 419.3l-1 0.6M202.2 429.1l0.5 1M204.7 431.8l1.1 0.1M215 412.8l0.6 0.9M215.9 409.8l-1.1 0.1M223 403.5l0.7 0.8M204.5 428.3l1 0.4M219.2 413.3l0.8 0.8M211.1 424.9l-0.6 0.9M210.9 431.9l0.3 1.1M210.1 428.1l-0.9 0.6M205.9 428.7l-1 0.5M210.7 420.6l-1.1 0.3M212.6 426.8l0.8 0.7M206.2 430.1l0.9 0.7M207.8 428l0.7 0.9M216.2 417.9l1.1 0.1M215.4 424.4l-0.2 1.1M197.8 427.5l1 0.4M217.4 404.7l-1 0.5M205.8 418.2l-1.1 0.1M214.1 414.7l-0.5 1M211.5 419.2l1 0.4M204.4 427.2l1 0.5M209.5 422.9l-0.6 0.9M209.7 426l0.1 1.1M203.6 428.2l-1.1 0.1M222.4 396.1l-1.1 0.1M210 421.7l0.4 1M211.2 415.4l-0 1.1M203 434.6l0.3 1M207.4 432l0.8 0.7M209.7 410.1l-0.5 1M222.4 403.7l0.6 0.9M229.6 401.9l-0.5 1M208.5 423.9l-0.4 1M248.5 381.5l-0.1 1.1M243.4 383.1l-0.9 0.6M246.5 383.1l-0.6 0.9M234.2 392.1l0.5 1M230.8 391.4l-0.4 1M243.6 382.1l1.1 0M249.9 378.7l-0.1 1.1M249.5 385.8l0.8 0.8M227.8 398.6l0.9 0.7M251.1 382.2l0.4 1M238.7 383.5l-0.4 1M246.5 385.1l0.8 0.8M247.2 385.6l1.1 0M227.4 398.6l-0.6 0.9M245.5 386.7l0.1 1.1M243.8 391.2l0.9 0.6M255.8 378.2l0.1 1.1M253.2 380.7l0.7 0.8M233.9 391.7l-0.3 1.1M224.2 392.5l1 0.4M245.4 381l-0.7 0.9M235.2 390.1l1.1 0.1M223.4 396.1l0.6 0.9M229 395.3l-1 0.5M226.1 391.2l1 0.4M252.6 374.1l0.7 0.9M230.1 395l-0.3 1.1M235 390.4l1.1 0.2M230.1 392.4l-1.1 0.2M233.2 394.5l0.9 0.6M242.1 387.9l-0.9 0.6M250 381.6l-0.2 1.1M251.4 384.3l0.2 1.1M247.3 380.9l1.1 0.2M255.8 381.3l0.5 1M234.5 383.9l0.8 0.8M244.7 387.2l0.4 1M231.9 394.4l-1.1 0.3M241.9 392.3l-1.1 0M240.5 389.1l1.1 0.3M237.8 390.8l0.8 0.8M246.2 383.1l0.3 1.1M236 388.2l0.5 1M226.7 401.3l1 0.4M237.7 383.4l0.9 0.7M234.2 393.6l0.2 1.1M257.5 374.7l1.1 0.1M225.6 390.3l0.1 1.1M246.1 385.4l-1.1 0.3M254.8 375.9l0.8 0.8M231 396.5l-0.6 0.9M253.6 375.5l-0.8 0.7M239.1 387.5l-0.9 0.7M236.1 390.1l0.6 0.9M229.8 397.2l-0.6 0.9M232.1 395.3l-0.3 1.1M238.2 392.3l1.1 0M229 392.1l-0.5 1M250.7 380.4l0.8 0.8M254.2 376.7l1.1 0.1M239.8 384.7l0.8 0.8M247.6 383.2l1.1 0.1M232.8 391.7l0.9 0.6M249.7 378.7l0.9 0.7M253.4 382.8l0.8 0.7M232.8 389.9l-1.1 0.2M241.5 388.7l0.3 1.1M247.3 383.6l0.4 1M233.7 391.9l1.1 0.2M223.7 398.2l-1 0.4M253.7 382.7l0.6 0.9M235.3 391.1l1.1 0.1M244.2 385.7l0.6 0.9M233.1 393l0.5 1M259.2 383.3l0.9 0.7M238.7 385.4l0.2 1.1M225.1 395.5l-1.1 0.3M228.3 396.5l1.1 0.1M239.9 384.7l1.1 0.1M232.2 397.5l0.8 0.8M250.2 381.2l0.7 0.8M253.3 377.5l-0.7 0.9M235.5 390.5l-0.8 0.8M249.5 375.1l1.1 0.1M226.9 392.8l-1.1 0.2M237.6 391.7l0 1.1M255.7 383.4l-0.7 0.8M251.2 377.8l0.6 0.9M232.8 393.5l1.1 0.3M232 390.6l1.1 0.2M247.6 437.7l-1.1 0.1M255.9 402.7l1.1 0.3M245.6 436l0.2 1.1M247.3 432.3l-0.6 0.9M255.6 404.9l1 0.4M252.3 408.4l0.4 1M253.7 411.2l0.8 0.8M253.6 430.9l0.6 0.9M255.2 423.2l0.8 0.7M247.9 398.4l1 0.3M254.3 414.8l-1.1 0.3M249.7 439.8l0.9 0.6M247.8 395.7l0.4 1M251.2 404.4l-0.8 0.7M257 402.8l-0.4 1M249.7 432.1l0.9 0.7M247.5 426.7l0.9 0.7M247.9 443.6l0.9 0.6M252.8 432l-0.2 1.1M252.7 439.1l-0.2 1.1M254.1 414.1l-0.6 0.9M251.1 425.3l-1.1 0.2M248.7 425.7l0.3 1.1M256.3 403.6l0.9 0.6M253 409.7l-1 0.3M253 419.4l-1 0.4M252.1 421.1l-0.2 1.1M253.7 412.4l-0.4 1M249.8 424.4l0.7 0.9M253.4 417.5l0 1.1M255.2 405.8l1 0.4M257.2 399.9l1.1 0.2M248.7 405.3l-0.4 1M256.1 409.9l0.8 0.7M254.9 418.3l0.9 0.6M247.9 433l0.4 1M250.6 439.7l-1 0.4M245.5 436.3l1.1 0.1M256.4 407.6l-0.2 1.1M251.4 416.6l-0.3 1.1M249.9 419.4l0.2 1.1M247.5 436.6l0.8 0.7M253.7 404.6l0.9 0.6M253.1 421.1l0.2 1.1M247 437.4l1.1 0.1M256.8 415.7l-0.8 0.7M255.4 419.7l0.4 1M257.7 404.6l-1.1 0M253.7 407.4l-1.1 0.1M258.5 417.5l1 0.5M254.2 406.4l0.5 1M256.5 413.7l0.7 0.8M255.5 408.5l-1.1 0.3M250.5 434.8l0.6 0.9M250.9 440.1l-1.1 0.2M254.2 410.3l-0.9 0.7M246.2 434.3l0.5 1M249.7 402l-1 0.4M254.7 435.4l0.4 1M252.3 415.7l-0.3 1.1M251.7 421.6l0.9 0.6M258.3 410.4l0.8 0.8M256.6 412.8l-0.5 1M252 426.9l1 0.5M249.2 415.6l-1 0.4M251.2 438.8l1.1 0.1M249.1 441l0.5 1M247.4 428.6l0.9 0.7M250.9 414.1l-1.1 0.2M251.8 430.9l-0.5 1M254.1 400.4l0.7 0.8M247.7 436.4l0.5 1M245.9 415.3l-0.7 0.8M251.7 429l-0.1 1.1M251.7 424l-0.8 0.7M243.2 437.2l1 0.5M248 429.4l-0.5 1M254.4 408.2l0.6 0.9M254.3 434.6l-0.7 0.9M252.8 435.6l0.1 1.1M250.9 409.5l1 0.4M253.6 430.9l-0.8 0.8M255.5 406.9l0.7 0.8M247.3 418.8l-0.1 1.1M246.1 422.8l0.9 0.7M255.9 403.3l0.8 0.7M257.7 407.1l0.6 0.9M252.5 405l-1.1 0.3M250.9 409.3l-1.1 0.1M254.4 416.3l-1 0.5M251.1 417.8l0.6 0.9M250 430.2l-1.1 0.3M252 434.2l-1.1 0.2M251.8 426.1l1.1 0.1M249.7 407.4l-0.7 0.8M247.8 435.7l-0.9 0.6M254.1 404.9l-1 0.4M255 401.1l0.9 0.7M256.2 436.6l-0.9 0.6M254.5 409.6l0.7 0.9M254.6 438.7l0.9 0.7M250.7 426.9l0.8 0.8M250.5 425.3l0.6 0.9M248 399.4l-0.4 1M247.4 440.4l-0.8 0.7M250.3 421.8l0.9 0.7M258.2 406.8l0.9 0.6M251.5 444.8l-1.1 0.1M246.5 440l-0.9 0.7M253.7 394.7l-0.9 0.6M257.6 392.8l0.9 0.7M258.7 385.4l-0.5 1M255.3 393.7l-0.9 0.7M257.8 388.2l0.4 1M264.6 384.1l1.1 0.1M255.3 398.4l-0 1.1M258.1 390.2l0.1 1.1M258.3 385.2l-0.5 1M256.3 392.7l-1 0.5M259.2 384.9l0.2 1.1M259.3 383.6l0.1 1.1M261.2 383.3l0.6 0.9M260.2 384.4l1 0.5M254.9 395.6l1 0.5M258.6 397l-0.7 0.8M255.7 396l0.4 1M262.7 377.3l0.2 1.1M255 393.8l0.9 0.7M259 391.4l-0.9 0.7M256.8 385.5l0.1 1.1M253.6 394.3l-0.8 0.8M259 382.7l-0.8 0.8M257.8 393.5l-1 0.4M259 380.5l-0.6 0.9M257.5 386.9l-0.4 1M251.8 397.9l-0.7 0.9M259 388.7l0.2 1.1M256.5 388.4l-1.1 0.2M253.6 391.9l0.4 1M258.4 389.1l-0.1 1.1M256.2 390.6l-0.1 1.1M252.7 395.1l-0.7 0.9M255.8 386l-0.1 1.1M258.5 390.2l-0.6 0.9M257.2 390l-1.1 0.1M258.3 392.1l0.3 1M252.4 398.7l-0.6 0.9M256.7 393l-0.8 0.8M260.2 380.9l-0.9 0.6M257.4 391.9l-0.8 0.7M259 381.8l-0.2 1.1M257.6 393.5l-0.5 1M261.4 381.3l0.7 0.9M261 390.7l0.5 1M260.6 384.5l0.8 0.8M257.5 390.5l-0.7 0.8M256.3 394.6l0.1 1.1M255.6 388.1l0.5 1M261.8 380.8l-0.9 0.6M261.5 380.7l-0.9 0.6M276.2 402.5l-1.1 0.2M276.4 403.6l1 0.5M265 405.7l1 0.5M283.8 396.7l-1 0.4M275.9 398.5l-1 0.4M281.1 398.5l-0.6 0.9M272.7 400.8l-1 0.4M273.3 405.9l1 0.5M275 405.8l1 0.5M268 404.7l-1 0.5M260 409l-0.2 1.1M278.2 399.5l0.3 1.1M288.7 399.6l-0.5 1M255.3 408.7l-1.1 0.2M270.8 406.6l0.1 1.1M287.8 399.6l-0.4 1M269.3 404.7l0.1 1.1M273 402.1l0.2 1.1M264.5 403.8l0.7 0.9M278.2 401.6l0.7 0.8M276.5 403.7l-0.9 0.7M266.2 409.4l-0.3 1.1M276 401.6l-0.7 0.8M281.9 398.4l0.6 0.9M260.7 418.2l-0.4 1M278 395.7l-0.4 1M272 399.4l-0.3 1.1M278.1 406.1l0.1 1.1M280.9 401.7l1.1 0.1M283.5 398.1l0.4 1M281.9 395.9l0.8 0.8M264.1 408.7l0.2 1.1M276.9 402l-0.2 1.1M263.2 415.2l-0.3 1.1M283.2 398.4l0.4 1M282.4 399.9l0.1 1.1M273 408.4l0.9 0.7M262.5 409.8l-0.6 0.9M262.7 409.9l-1 0.4M266.4 410.6l0.8 0.8M278.9 401.9l-0.8 0.7M281 397.4l1.1 0.3M274.7 399.3l-1.1 0.2M269.8 407.1l1.1 0M255.2 407.3l1.1 0.3M266.5 405.5l-1 0.5M274.3 405.8l-0.3 1.1M269.5 403.9l-0.9 0.7M265.6 403.2l0.3 1.1M270.4 399.1l-0.9 0.7M273.6 404.5l-1.1 0.1M279 399l-0.4 1M287.4 393.8l0.6 0.9M272.2 403.7l-0.6 0.9M279.2 399.6l0.7 0.9M257.8 415.1l-0.3 1.1M281.5 399.2l-1 0.6M283.4 396.9l0.7 0.8M283.4 394.9l-1.1 0.3M271 408.8l-0.9 0.7M263.6 402l0.8 0.7M273.5 399.9l0.9 0.7M265.2 402.8l0.1 1.1M262.3 405.8l0.8 0.7M279.2 399.5l-0.1 1.1M269.7 403.8l0.9 0.6M262.2 406.6l-0.2 1.1M267.6 405.8l1.1 0.2M284.9 398.1l-0.4 1M282.3 403.6l0.5 1M273.3 404.3l-1.1 0M278.3 399.3l0.7 0.8M273.3 403.6l-0.8 0.7M283.2 399.2l1.1 0.1M264.2 410.1l1.1 0.2M275.9 401.2l-1.1 0.2M287.2 400l0.3 1M263.6 409.6l-0.2 1.1M280.3 401.2l0.4 1M274.8 411.9l-1.1 0M266.5 409.2l0.5 1M288 395.2l1.1 0.2M218.9 429.8l-1.1 0.1M215.4 429.3l-1.1 0.2M217.7 436l-0.8 0.8M212.1 428.1l1 0.4M217.8 432.1l1 0.5M223.1 432.8l0.9 0.6M214.1 424.5l-1.1 0.2M221.8 433.6l0.2 1.1M217.7 423.8l-0.4 1M213.8 434.3l0.1 1.1M219.5 433.4l1.1 0.2M217.7 432.3l-1 0.4M213.3 428.8l0.7 0.8M219.6 435.7l0 1.1M216.3 427.7l-1.1 0.1M215.8 423.1l0.9 0.7M216.3 432.3l0.9 0.7M225.4 428.5l-1.1 0.3M211.5 431.7l1.1 0.2M217.2 440.3l1.1 0.1M219.3 435.1l1.1 0M218.6 433.9l0.2 1.1M221.8 438.5l1 0.5M214.4 422.7l0.9 0.6M216 427.8l0 1.1M215.8 431.7l-0.7 0.9M218.5 433l1.1 0.2M215.6 435.5l1.1 0.2M217.4 438.5l-1 0.5M222.9 431l0.1 1.1M220.5 436.3l-0.9 0.6M217 431.3l-0.3 1.1M209.1 424.7l-0.1 1.1M212.1 421.4l-1 0.5M214.6 425.9l-0.8 0.8M217.4 420.8l0 1.1M213.8 430l1.1 0.1M222 437.4l1 0.3" fill="none" stroke="#8a8d7c" stroke-width="1" stroke-linecap="round" opacity="0.34"/>
</g>
<g clip-path="url(#cp2)">
<ellipse cx="385" cy="438" rx="40" ry="24" fill="#c6c4ca" opacity="0.55" filter="url(#blur3)"/>
<g filter="url(#gblur1)">
<circle cx="436.5" cy="423.3" r="2.6" fill="#4b4650" opacity="0.4"/>
<circle cx="442.2" cy="402.2" r="3.8" fill="#4b4650" opacity="0.5"/>
<circle cx="435.7" cy="409.1" r="4.2" fill="#4b4650" opacity="0.5"/>
<circle cx="426.3" cy="428.3" r="2" fill="#4b4650" opacity="0.3"/>
<circle cx="416.7" cy="403.3" r="3.6" fill="#4b4650" opacity="0.4"/>
<circle cx="420.8" cy="411.9" r="1.7" fill="#4b4650" opacity="0.3"/>
<circle cx="405.5" cy="404.3" r="2" fill="#4b4650" opacity="0.3"/>
<circle cx="428.2" cy="427.6" r="2.4" fill="#4b4650" opacity="0.3"/>
<circle cx="424.9" cy="415.6" r="2.5" fill="#4b4650" opacity="0.3"/>
<circle cx="421.1" cy="425.4" r="4" fill="#4b4650" opacity="0.3"/>
<circle cx="416.7" cy="406.4" r="3.8" fill="#4b4650" opacity="0.3"/>
<circle cx="437.5" cy="439" r="3.1" fill="#4b4650" opacity="0.3"/>
<circle cx="434.7" cy="403.3" r="3.8" fill="#4b4650" opacity="0.5"/>
<circle cx="439.7" cy="411.6" r="3.6" fill="#4b4650" opacity="0.5"/>
<circle cx="405.8" cy="402.8" r="3.2" fill="#4b4650" opacity="0.3"/>
<circle cx="442.7" cy="432.6" r="2.5" fill="#4b4650" opacity="0.3"/>
<circle cx="433.7" cy="403.7" r="3.2" fill="#4b4650" opacity="0.5"/>
<circle cx="443" cy="407.7" r="2.7" fill="#4b4650" opacity="0.5"/>
<circle cx="419.8" cy="406.2" r="1.7" fill="#4b4650" opacity="0.4"/>
<circle cx="430.8" cy="419.1" r="3" fill="#4b4650" opacity="0.4"/>
<circle cx="428.4" cy="432.7" r="2.2" fill="#4b4650" opacity="0.3"/>
<circle cx="424.2" cy="423.5" r="1.6" fill="#4b4650" opacity="0.3"/>
<circle cx="429.1" cy="425.1" r="1.7" fill="#4b4650" opacity="0.3"/>
<circle cx="442.3" cy="427.6" r="2.8" fill="#4b4650" opacity="0.4"/>
<circle cx="416.3" cy="414.1" r="3.4" fill="#4b4650" opacity="0.3"/>
<circle cx="413.2" cy="402.3" r="1.8" fill="#4b4650" opacity="0.3"/>
<circle cx="436" cy="418.9" r="3.1" fill="#4b4650" opacity="0.4"/>
<circle cx="433.3" cy="414.6" r="2.4" fill="#4b4650" opacity="0.4"/>
<circle cx="431.2" cy="426" r="2.4" fill="#4b4650" opacity="0.3"/>
<circle cx="430.8" cy="435.6" r="1.7" fill="#4b4650" opacity="0.3"/>
<circle cx="433.7" cy="408.7" r="3.7" fill="#4b4650" opacity="0.4"/>
<circle cx="436.5" cy="407.3" r="2.7" fill="#4b4650" opacity="0.5"/>
<circle cx="415.3" cy="404.4" r="2.4" fill="#4b4650" opacity="0.3"/>
<circle cx="439" cy="413.4" r="3.3" fill="#4b4650" opacity="0.4"/>
<circle cx="437" cy="405" r="3" fill="#4b4650" opacity="0.5"/>
<circle cx="438.3" cy="437.6" r="3.8" fill="#4b4650" opacity="0.3"/>
<circle cx="438.5" cy="410.9" r="3.7" fill="#4b4650" opacity="0.5"/>
<circle cx="432.2" cy="405.3" r="2.4" fill="#4b4650" opacity="0.5"/>
<circle cx="410.2" cy="410.6" r="2.5" fill="#4b4650" opacity="0.3"/>
<circle cx="429.1" cy="417.2" r="2.7" fill="#4b4650" opacity="0.4"/>
<circle cx="403.1" cy="406.2" r="1.6" fill="#4b4650" opacity="0.3"/>
<circle cx="437.1" cy="434.1" r="3.8" fill="#4b4650" opacity="0.3"/>
<circle cx="434.5" cy="413.6" r="2.2" fill="#4b4650" opacity="0.4"/>
<circle cx="442.1" cy="425.6" r="2.3" fill="#4b4650" opacity="0.4"/>
<circle cx="409.3" cy="402.8" r="3.9" fill="#4b4650" opacity="0.3"/>
<circle cx="421.5" cy="402.2" r="3.5" fill="#4b4650" opacity="0.4"/>
<circle cx="438.9" cy="411.8" r="3.3" fill="#4b4650" opacity="0.5"/>
<circle cx="424" cy="416.9" r="4" fill="#4b4650" opacity="0.3"/>
<circle cx="419.7" cy="413.6" r="2.3" fill="#4b4650" opacity="0.3"/>
<circle cx="410.8" cy="414.1" r="2.1" fill="#4b4650" opacity="0.3"/>
<circle cx="439" cy="436.7" r="4" fill="#4b4650" opacity="0.3"/>
<circle cx="443.4" cy="427.7" r="3.8" fill="#4b4650" opacity="0.4"/>
<circle cx="442.6" cy="410.6" r="2.3" fill="#4b4650" opacity="0.5"/>
<circle cx="423.9" cy="417.4" r="2.8" fill="#4b4650" opacity="0.3"/>
<circle cx="411.1" cy="402" r="1.7" fill="#4b4650" opacity="0.3"/>
<circle cx="440.4" cy="405.1" r="1.8" fill="#4b4650" opacity="0.5"/>
<circle cx="441.6" cy="421.2" r="2.4" fill="#4b4650" opacity="0.4"/>
<circle cx="433.5" cy="414.1" r="3.3" fill="#4b4650" opacity="0.4"/>
<circle cx="421" cy="414.5" r="2.1" fill="#4b4650" opacity="0.3"/>
<circle cx="432.9" cy="405.1" r="3" fill="#4b4650" opacity="0.5"/>
<circle cx="414.4" cy="415.4" r="1.8" fill="#4b4650" opacity="0.3"/>
<circle cx="438.7" cy="415.1" r="3.2" fill="#4b4650" opacity="0.4"/>
<circle cx="428.4" cy="415" r="2.9" fill="#4b4650" opacity="0.4"/>
<circle cx="415" cy="417.2" r="3.4" fill="#4b4650" opacity="0.3"/>
<circle cx="427.1" cy="409.6" r="3" fill="#4b4650" opacity="0.4"/>
<circle cx="415.5" cy="403.5" r="2.7" fill="#4b4650" opacity="0.4"/>
<circle cx="435.6" cy="419.3" r="1.9" fill="#4b4650" opacity="0.4"/>
<circle cx="422.1" cy="404.5" r="3.1" fill="#4b4650" opacity="0.4"/>
<circle cx="443.5" cy="405.8" r="3.6" fill="#4b4650" opacity="0.5"/>
<circle cx="442.7" cy="404.1" r="1.9" fill="#4b4650" opacity="0.5"/>
<circle cx="405.4" cy="407" r="1.7" fill="#4b4650" opacity="0.3"/>
<circle cx="407.5" cy="405" r="3.8" fill="#4b4650" opacity="0.3"/>
<circle cx="409.9" cy="402.6" r="3.6" fill="#4b4650" opacity="0.3"/>
<circle cx="441" cy="434.3" r="4" fill="#4b4650" opacity="0.3"/>
<circle cx="442.3" cy="412.9" r="3.1" fill="#4b4650" opacity="0.5"/>
<circle cx="408.3" cy="409.4" r="2.1" fill="#4b4650" opacity="0.3"/>
<circle cx="436.1" cy="427" r="3.6" fill="#4b4650" opacity="0.3"/>
<circle cx="430.1" cy="414.8" r="2.6" fill="#4b4650" opacity="0.4"/>
<circle cx="432" cy="417.1" r="1.8" fill="#4b4650" opacity="0.4"/>
<circle cx="439.3" cy="431.1" r="3.6" fill="#4b4650" opacity="0.3"/>
<circle cx="426" cy="428.5" r="3.9" fill="#4b4650" opacity="0.3"/>
<circle cx="439.7" cy="404.2" r="3.5" fill="#4b4650" opacity="0.5"/>
<circle cx="427.9" cy="432.6" r="2.1" fill="#4b4650" opacity="0.3"/>
<circle cx="435.4" cy="407.8" r="3.1" fill="#4b4650" opacity="0.5"/>
<circle cx="433.5" cy="409" r="3.4" fill="#4b4650" opacity="0.4"/>
<circle cx="414.9" cy="416.9" r="3.8" fill="#4b4650" opacity="0.3"/>
<circle cx="421.1" cy="410.5" r="2.2" fill="#4b4650" opacity="0.3"/>
<circle cx="443.2" cy="420.1" r="2.6" fill="#4b4650" opacity="0.4"/>
<circle cx="438.9" cy="414.5" r="2.4" fill="#4b4650" opacity="0.4"/>
<circle cx="411.2" cy="405.8" r="4.2" fill="#4b4650" opacity="0.3"/>
<circle cx="426.2" cy="426.1" r="2.8" fill="#4b4650" opacity="0.3"/>
<circle cx="422.5" cy="420.2" r="3.5" fill="#4b4650" opacity="0.3"/>
<ellipse cx="440" cy="440" rx="4" ry="10" fill="#6a6570" opacity="0.5"/>
</g>
<path d="M393.3 404 C392.5 414 395 422 398.2 429.5" fill="none" stroke="#7b7782" stroke-width="1.4" opacity="0.8"/>
<path d="M376 404 C379 410 381 414 383 420" fill="none" stroke="#8f8c97" stroke-width="0.8" opacity="0.7"/>
<ellipse cx="367.2" cy="412.8" rx="1.3" ry="2" fill="#5f5a66" opacity="0.8"/>
<ellipse cx="366.4" cy="443.3" rx="9.5" ry="5.2" transform="rotate(32 366.4 443.3)" fill="#b5b3ba" stroke="#6f6c78" stroke-width="0.9" opacity="0.9"/>
<ellipse cx="387.8" cy="452" rx="15.5" ry="7" transform="rotate(-19 387.8 452)" fill="#bdb9ba" stroke="#6f6c78" stroke-width="0.9" opacity="0.9"/>
<path d="M360 457 L361 468 M361 468 L372 460" fill="none" stroke="#8a8792" stroke-width="0.7" opacity="0.7"/>
</g>
<g clip-path="url(#cp3)">
<ellipse cx="552" cy="452" rx="11" ry="28" fill="#5a4a42" opacity="0.42" filter="url(#blur3)"/>
<ellipse cx="586" cy="431" rx="32" ry="7" fill="#5a4a42" opacity="0.4" filter="url(#blur3)"/>
<ellipse cx="650" cy="490" rx="13" ry="8" fill="#5a4a42" opacity="0.45" filter="url(#blur3)"/>
<ellipse cx="555" cy="489" rx="8" ry="7" fill="#5a4a42" opacity="0.3" filter="url(#blur3)"/>
<path d="M594.5 474 C598 466 612 458 628 452 C642 447 652 443 659 437 L659 470 C645 474 630 477 615 478 C604 479 596 478 594.5 474Z" fill="#d0c3b3" stroke="#a3a2ad" stroke-width="0.8" opacity="0.95"/>
<path d="M603 472 C615 464 635 458 658 452" fill="none" stroke="#dbd0c2" stroke-width="5" opacity="0.7" filter="url(#blur1)"/>
<path d="M606 474.5 C620 470 640 467 658 461" fill="none" stroke="#b9aa9a" stroke-width="1.6" opacity="0.45" filter="url(#blur05)"/>
<g filter="url(#gblur08)">
<circle cx="548.9" cy="454.9" r="3.2" fill="#4a3b34" opacity="0.3"/>
<circle cx="548.4" cy="449.1" r="1.6" fill="#4a3b34" opacity="0.3"/>
<circle cx="548.9" cy="433.2" r="1.4" fill="#4a3b34" opacity="0.3"/>
<circle cx="562.7" cy="462.8" r="2.7" fill="#4a3b34" opacity="0.2"/>
<circle cx="567.9" cy="446.2" r="2.6" fill="#4a3b34" opacity="0.4"/>
<circle cx="555.5" cy="451.9" r="2.4" fill="#4a3b34" opacity="0.2"/>
<circle cx="556.4" cy="459" r="1.3" fill="#4a3b34" opacity="0.3"/>
<circle cx="546.1" cy="459.1" r="2.3" fill="#4a3b34" opacity="0.4"/>
<circle cx="547.6" cy="450" r="2.2" fill="#4a3b34" opacity="0.3"/>
<circle cx="571.5" cy="449.4" r="3" fill="#4a3b34" opacity="0.4"/>
<circle cx="553.6" cy="458.6" r="1.8" fill="#4a3b34" opacity="0.2"/>
<circle cx="555.5" cy="436.9" r="3.1" fill="#4a3b34" opacity="0.3"/>
<circle cx="564.4" cy="443.4" r="1.2" fill="#4a3b34" opacity="0.3"/>
<circle cx="559.8" cy="442.2" r="3.4" fill="#4a3b34" opacity="0.3"/>
<circle cx="561.3" cy="458.1" r="2.9" fill="#4a3b34" opacity="0.3"/>
<circle cx="558.8" cy="456.1" r="3.3" fill="#4a3b34" opacity="0.4"/>
<circle cx="557.8" cy="456.6" r="1.4" fill="#4a3b34" opacity="0.2"/>
<circle cx="555.9" cy="442.2" r="2.4" fill="#4a3b34" opacity="0.3"/>
<circle cx="558" cy="469.6" r="1.5" fill="#4a3b34" opacity="0.4"/>
<circle cx="558.9" cy="459.1" r="1.7" fill="#4a3b34" opacity="0.3"/>
<circle cx="563.9" cy="445.7" r="1.9" fill="#4a3b34" opacity="0.4"/>
<circle cx="556.2" cy="462.6" r="3.1" fill="#4a3b34" opacity="0.4"/>
<circle cx="567.2" cy="473.1" r="1.7" fill="#4a3b34" opacity="0.3"/>
<circle cx="555.6" cy="438.5" r="1.9" fill="#4a3b34" opacity="0.2"/>
<circle cx="560.6" cy="459.2" r="1.7" fill="#4a3b34" opacity="0.4"/>
<circle cx="551.2" cy="460.3" r="3.3" fill="#4a3b34" opacity="0.3"/>
<circle cx="546" cy="438.2" r="1.6" fill="#4a3b34" opacity="0.2"/>
<circle cx="562.7" cy="436.9" r="1.7" fill="#4a3b34" opacity="0.2"/>
<circle cx="554.2" cy="419.2" r="1.6" fill="#4a3b34" opacity="0.4"/>
<circle cx="560" cy="438.1" r="2.1" fill="#4a3b34" opacity="0.2"/>
<circle cx="567.4" cy="458" r="1.7" fill="#4a3b34" opacity="0.4"/>
<circle cx="554.6" cy="474.2" r="2.5" fill="#4a3b34" opacity="0.3"/>
<circle cx="558.6" cy="468.5" r="1.4" fill="#4a3b34" opacity="0.3"/>
<circle cx="545.9" cy="440.7" r="2.6" fill="#4a3b34" opacity="0.3"/>
<circle cx="557.9" cy="445.6" r="1.2" fill="#4a3b34" opacity="0.3"/>
<circle cx="553.3" cy="451.5" r="1.6" fill="#4a3b34" opacity="0.3"/>
<circle cx="552.6" cy="447" r="2" fill="#4a3b34" opacity="0.4"/>
<circle cx="562.3" cy="447.7" r="2.7" fill="#4a3b34" opacity="0.4"/>
<circle cx="555.8" cy="452.7" r="1.2" fill="#4a3b34" opacity="0.4"/>
<circle cx="551.1" cy="418.2" r="1.2" fill="#4a3b34" opacity="0.4"/>
<circle cx="547" cy="452.3" r="1.9" fill="#4a3b34" opacity="0.5"/>
<circle cx="560.6" cy="457.4" r="2.8" fill="#4a3b34" opacity="0.4"/>
<circle cx="554.4" cy="429.8" r="2.9" fill="#4a3b34" opacity="0.4"/>
<circle cx="550.5" cy="465.9" r="3.2" fill="#4a3b34" opacity="0.4"/>
<circle cx="547.3" cy="461.4" r="3.1" fill="#4a3b34" opacity="0.3"/>
<circle cx="551.5" cy="441" r="2.5" fill="#4a3b34" opacity="0.4"/>
<circle cx="561.3" cy="459" r="3.4" fill="#4a3b34" opacity="0.4"/>
<circle cx="554.3" cy="437.2" r="2.8" fill="#4a3b34" opacity="0.4"/>
<circle cx="546.1" cy="459.1" r="1.4" fill="#4a3b34" opacity="0.4"/>
<circle cx="561.7" cy="453.3" r="2.3" fill="#4a3b34" opacity="0.3"/>
<circle cx="553.1" cy="435.6" r="2.6" fill="#4a3b34" opacity="0.4"/>
<circle cx="555" cy="452" r="1.9" fill="#4a3b34" opacity="0.4"/>
<circle cx="555.9" cy="457.6" r="3.2" fill="#4a3b34" opacity="0.4"/>
<circle cx="545.2" cy="459.8" r="1.9" fill="#4a3b34" opacity="0.4"/>
<circle cx="556.7" cy="463.1" r="3" fill="#4a3b34" opacity="0.4"/>
<circle cx="558.6" cy="441.2" r="2.5" fill="#4a3b34" opacity="0.3"/>
<circle cx="558.8" cy="461.5" r="3" fill="#4a3b34" opacity="0.4"/>
<circle cx="552" cy="419.1" r="1.8" fill="#4a3b34" opacity="0.2"/>
<circle cx="551.2" cy="453.2" r="1.7" fill="#4a3b34" opacity="0.3"/>
<circle cx="550.9" cy="439.2" r="1.9" fill="#4a3b34" opacity="0.4"/>
<circle cx="563.5" cy="484.3" r="1.4" fill="#4a3b34" opacity="0.2"/>
<circle cx="559" cy="483.7" r="2.8" fill="#4a3b34" opacity="0.3"/>
<circle cx="554.8" cy="494.9" r="1.2" fill="#4a3b34" opacity="0.2"/>
<circle cx="556.9" cy="485.4" r="3" fill="#4a3b34" opacity="0.3"/>
<circle cx="559" cy="486.4" r="2.6" fill="#4a3b34" opacity="0.3"/>
<circle cx="553" cy="478.6" r="3" fill="#4a3b34" opacity="0.5"/>
<circle cx="556.7" cy="481.3" r="2.2" fill="#4a3b34" opacity="0.2"/>
<circle cx="563.6" cy="485.5" r="2.8" fill="#4a3b34" opacity="0.2"/>
<circle cx="557.4" cy="490.5" r="2.7" fill="#4a3b34" opacity="0.3"/>
<circle cx="551.7" cy="478.4" r="2.1" fill="#4a3b34" opacity="0.4"/>
<circle cx="559.8" cy="483.6" r="3.3" fill="#4a3b34" opacity="0.4"/>
<circle cx="561.8" cy="489.8" r="2.6" fill="#4a3b34" opacity="0.4"/>
<circle cx="553.4" cy="490.4" r="3.1" fill="#4a3b34" opacity="0.4"/>
<circle cx="563.2" cy="482.7" r="2.6" fill="#4a3b34" opacity="0.3"/>
<circle cx="556.4" cy="474.1" r="2.6" fill="#4a3b34" opacity="0.4"/>
<circle cx="560.5" cy="497.5" r="3.4" fill="#4a3b34" opacity="0.5"/>
<circle cx="549.4" cy="482.6" r="1.9" fill="#4a3b34" opacity="0.4"/>
<circle cx="560.9" cy="480.6" r="1.4" fill="#4a3b34" opacity="0.3"/>
<circle cx="549.9" cy="481.8" r="2.3" fill="#4a3b34" opacity="0.2"/>
<circle cx="558.7" cy="483" r="3" fill="#4a3b34" opacity="0.2"/>
<circle cx="553.5" cy="494.1" r="1.5" fill="#4a3b34" opacity="0.2"/>
<circle cx="550" cy="484" r="3" fill="#4a3b34" opacity="0.4"/>
<circle cx="604.8" cy="432.4" r="3.3" fill="#4a3b34" opacity="0.2"/>
<circle cx="588.9" cy="438.8" r="1.8" fill="#4a3b34" opacity="0.4"/>
<circle cx="570.9" cy="430.3" r="3.1" fill="#4a3b34" opacity="0.3"/>
<circle cx="578.3" cy="437.6" r="3.1" fill="#4a3b34" opacity="0.4"/>
<circle cx="594.1" cy="441.5" r="3.3" fill="#4a3b34" opacity="0.3"/>
<circle cx="574.2" cy="432.8" r="2.4" fill="#4a3b34" opacity="0.3"/>
<circle cx="581.6" cy="433.4" r="3.3" fill="#4a3b34" opacity="0.3"/>
<circle cx="558.8" cy="438.2" r="2.4" fill="#4a3b34" opacity="0.3"/>
<circle cx="582.6" cy="432.6" r="2.4" fill="#4a3b34" opacity="0.3"/>
<circle cx="624.3" cy="431.6" r="1.8" fill="#4a3b34" opacity="0.3"/>
<circle cx="598.4" cy="437.1" r="3" fill="#4a3b34" opacity="0.4"/>
<circle cx="569.4" cy="434.5" r="1.6" fill="#4a3b34" opacity="0.4"/>
<circle cx="593.5" cy="433" r="2.9" fill="#4a3b34" opacity="0.2"/>
<circle cx="589.4" cy="436.7" r="2.7" fill="#4a3b34" opacity="0.3"/>
<circle cx="569.6" cy="438.4" r="1.4" fill="#4a3b34" opacity="0.4"/>
<circle cx="600.4" cy="437.3" r="1.8" fill="#4a3b34" opacity="0.3"/>
<circle cx="566.1" cy="433.2" r="2" fill="#4a3b34" opacity="0.3"/>
<circle cx="574.6" cy="433.6" r="1.6" fill="#4a3b34" opacity="0.4"/>
<circle cx="570.7" cy="430.2" r="3.1" fill="#4a3b34" opacity="0.4"/>
<circle cx="593.1" cy="431.7" r="2.8" fill="#4a3b34" opacity="0.4"/>
<circle cx="597.8" cy="432" r="1.9" fill="#4a3b34" opacity="0.4"/>
<circle cx="597.8" cy="448" r="3.2" fill="#4a3b34" opacity="0.2"/>
<circle cx="586.9" cy="440.4" r="1.8" fill="#4a3b34" opacity="0.2"/>
<circle cx="594.3" cy="430.4" r="2.9" fill="#4a3b34" opacity="0.2"/>
<circle cx="562.6" cy="437.5" r="1.2" fill="#4a3b34" opacity="0.3"/>
<circle cx="568.7" cy="426" r="3.3" fill="#4a3b34" opacity="0.2"/>
<circle cx="554.7" cy="433.8" r="2.3" fill="#4a3b34" opacity="0.4"/>
<circle cx="587.6" cy="435.4" r="1.4" fill="#4a3b34" opacity="0.2"/>
<circle cx="564.5" cy="432.5" r="2.5" fill="#4a3b34" opacity="0.2"/>
<circle cx="589.9" cy="436.5" r="3" fill="#4a3b34" opacity="0.5"/>
<circle cx="592.2" cy="433.2" r="1.3" fill="#4a3b34" opacity="0.4"/>
<circle cx="555.2" cy="435.6" r="1.9" fill="#4a3b34" opacity="0.3"/>
<circle cx="566" cy="433.6" r="2.5" fill="#4a3b34" opacity="0.2"/>
<circle cx="574.5" cy="426.6" r="1.6" fill="#4a3b34" opacity="0.3"/>
<circle cx="583.8" cy="429.9" r="1.6" fill="#4a3b34" opacity="0.2"/>
<circle cx="581.8" cy="433.9" r="3.2" fill="#4a3b34" opacity="0.4"/>
<circle cx="575" cy="426.4" r="2.6" fill="#4a3b34" opacity="0.3"/>
<circle cx="567.7" cy="431.2" r="3.4" fill="#4a3b34" opacity="0.4"/>
<circle cx="582.9" cy="442.8" r="2.8" fill="#4a3b34" opacity="0.4"/>
<circle cx="592.3" cy="430.3" r="3.2" fill="#4a3b34" opacity="0.4"/>
<circle cx="574.6" cy="427.6" r="2.9" fill="#4a3b34" opacity="0.3"/>
<circle cx="583.8" cy="432.5" r="2" fill="#4a3b34" opacity="0.3"/>
<circle cx="601.8" cy="434.2" r="2.6" fill="#4a3b34" opacity="0.4"/>
<circle cx="589.9" cy="443.6" r="2.7" fill="#4a3b34" opacity="0.3"/>
<circle cx="572.4" cy="429.6" r="2.4" fill="#4a3b34" opacity="0.3"/>
<circle cx="610.8" cy="434" r="2.7" fill="#4a3b34" opacity="0.4"/>
<circle cx="588.8" cy="433.9" r="2.6" fill="#4a3b34" opacity="0.4"/>
<circle cx="584.2" cy="438" r="1.3" fill="#4a3b34" opacity="0.2"/>
<circle cx="579.2" cy="435.3" r="1.8" fill="#4a3b34" opacity="0.4"/>
<circle cx="564.6" cy="432.5" r="3.3" fill="#4a3b34" opacity="0.3"/>
<circle cx="610.6" cy="433.8" r="3" fill="#4a3b34" opacity="0.2"/>
<circle cx="560.2" cy="430.1" r="1.3" fill="#4a3b34" opacity="0.4"/>
<circle cx="595.9" cy="437.8" r="1.6" fill="#4a3b34" opacity="0.3"/>
<circle cx="580.2" cy="433.1" r="3.3" fill="#4a3b34" opacity="0.3"/>
<circle cx="561" cy="433.1" r="2" fill="#4a3b34" opacity="0.3"/>
<circle cx="572" cy="429.8" r="1.8" fill="#4a3b34" opacity="0.4"/>
<circle cx="584.1" cy="434.6" r="1.7" fill="#4a3b34" opacity="0.2"/>
<circle cx="601.7" cy="439.6" r="2.1" fill="#4a3b34" opacity="0.4"/>
<circle cx="584.9" cy="432.7" r="3.4" fill="#4a3b34" opacity="0.4"/>
<circle cx="620" cy="437.9" r="2.1" fill="#4a3b34" opacity="0.3"/>
<circle cx="598.3" cy="433.5" r="2.4" fill="#4a3b34" opacity="0.4"/>
<circle cx="581.6" cy="429.6" r="3.4" fill="#4a3b34" opacity="0.4"/>
<circle cx="577.9" cy="432.8" r="2.6" fill="#4a3b34" opacity="0.3"/>
<circle cx="586.7" cy="435.3" r="2.4" fill="#4a3b34" opacity="0.2"/>
<circle cx="560" cy="436.1" r="2.2" fill="#4a3b34" opacity="0.3"/>
<circle cx="568.7" cy="431.9" r="2.9" fill="#4a3b34" opacity="0.3"/>
<circle cx="587.8" cy="446.8" r="2.8" fill="#4a3b34" opacity="0.2"/>
<circle cx="582.6" cy="453.9" r="2.9" fill="#4a3b34" opacity="0.3"/>
<circle cx="570" cy="450.1" r="2.7" fill="#4a3b34" opacity="0.3"/>
<circle cx="565.9" cy="443.1" r="2.9" fill="#4a3b34" opacity="0.2"/>
<circle cx="573.1" cy="461" r="3.2" fill="#4a3b34" opacity="0.4"/>
<circle cx="575.1" cy="447.4" r="1.8" fill="#4a3b34" opacity="0.3"/>
<circle cx="571" cy="445.4" r="2.4" fill="#4a3b34" opacity="0.2"/>
<circle cx="580.7" cy="450.9" r="2.4" fill="#4a3b34" opacity="0.3"/>
<circle cx="568.2" cy="451.1" r="1.7" fill="#4a3b34" opacity="0.3"/>
<circle cx="572.6" cy="437.5" r="1.4" fill="#4a3b34" opacity="0.2"/>
<circle cx="576" cy="440.5" r="2.9" fill="#4a3b34" opacity="0.2"/>
<circle cx="568.9" cy="448.8" r="3" fill="#4a3b34" opacity="0.3"/>
<circle cx="562.7" cy="434.6" r="1.9" fill="#4a3b34" opacity="0.3"/>
<circle cx="572.7" cy="435.7" r="2.1" fill="#4a3b34" opacity="0.3"/>
<circle cx="583" cy="452.8" r="1.4" fill="#4a3b34" opacity="0.2"/>
<circle cx="566.6" cy="444.7" r="2.7" fill="#4a3b34" opacity="0.3"/>
<circle cx="612.5" cy="435.6" r="1.7" fill="#4a3b34" opacity="0.3"/>
<circle cx="617.9" cy="438.5" r="2.8" fill="#4a3b34" opacity="0.3"/>
<circle cx="611.1" cy="438.9" r="2" fill="#4a3b34" opacity="0.3"/>
<circle cx="609.3" cy="438.3" r="2.8" fill="#4a3b34" opacity="0.3"/>
<circle cx="628.5" cy="432.9" r="3.2" fill="#4a3b34" opacity="0.2"/>
<circle cx="614.2" cy="434.2" r="1.9" fill="#4a3b34" opacity="0.2"/>
<circle cx="627.6" cy="434" r="1.7" fill="#4a3b34" opacity="0.2"/>
<circle cx="607" cy="439.5" r="2.1" fill="#4a3b34" opacity="0.2"/>
<circle cx="615.5" cy="441.2" r="3" fill="#4a3b34" opacity="0.3"/>
<circle cx="617.3" cy="433.1" r="1.6" fill="#4a3b34" opacity="0.3"/>
<circle cx="616.8" cy="435.1" r="1.2" fill="#4a3b34" opacity="0.3"/>
<circle cx="602" cy="435.8" r="3.3" fill="#4a3b34" opacity="0.3"/>
<circle cx="613" cy="435.8" r="2.4" fill="#4a3b34" opacity="0.3"/>
<circle cx="614.9" cy="437.7" r="2.8" fill="#4a3b34" opacity="0.3"/>
<circle cx="656.6" cy="491.2" r="1.5" fill="#4a3b34" opacity="0.4"/>
<circle cx="644.9" cy="485.3" r="1.7" fill="#4a3b34" opacity="0.4"/>
<circle cx="636.2" cy="487" r="2.1" fill="#4a3b34" opacity="0.3"/>
<circle cx="658.3" cy="486.7" r="2.3" fill="#4a3b34" opacity="0.4"/>
<circle cx="646" cy="481.1" r="3.2" fill="#4a3b34" opacity="0.3"/>
<circle cx="652.8" cy="482.1" r="3.1" fill="#4a3b34" opacity="0.4"/>
<circle cx="655.4" cy="479.8" r="3.3" fill="#4a3b34" opacity="0.4"/>
<circle cx="637.1" cy="486.9" r="3" fill="#4a3b34" opacity="0.3"/>
<circle cx="644.5" cy="489.2" r="2.8" fill="#4a3b34" opacity="0.5"/>
<circle cx="645" cy="489.9" r="1.6" fill="#4a3b34" opacity="0.3"/>
<circle cx="643.2" cy="499.5" r="1.3" fill="#4a3b34" opacity="0.3"/>
<circle cx="655.6" cy="492.3" r="2.9" fill="#4a3b34" opacity="0.3"/>
<circle cx="655.2" cy="489.9" r="2.5" fill="#4a3b34" opacity="0.5"/>
<circle cx="651.3" cy="488.5" r="1.6" fill="#4a3b34" opacity="0.3"/>
<circle cx="649" cy="495.1" r="2.5" fill="#4a3b34" opacity="0.3"/>
<circle cx="650.3" cy="491.4" r="1.6" fill="#4a3b34" opacity="0.4"/>
<circle cx="644.7" cy="493.3" r="3" fill="#4a3b34" opacity="0.3"/>
<circle cx="647" cy="497.4" r="3.2" fill="#4a3b34" opacity="0.3"/>
<circle cx="631.2" cy="484.7" r="2.3" fill="#4a3b34" opacity="0.3"/>
<circle cx="664.2" cy="491.4" r="3" fill="#4a3b34" opacity="0.3"/>
<circle cx="639.7" cy="487.1" r="1.8" fill="#4a3b34" opacity="0.5"/>
<circle cx="645.2" cy="485.2" r="1.2" fill="#4a3b34" opacity="0.3"/>
<circle cx="639.4" cy="493.8" r="2.8" fill="#4a3b34" opacity="0.4"/>
<circle cx="650.2" cy="490.2" r="1.9" fill="#4a3b34" opacity="0.3"/>
<circle cx="653.7" cy="484" r="2.6" fill="#4a3b34" opacity="0.5"/>
<circle cx="647.1" cy="493.5" r="1.5" fill="#4a3b34" opacity="0.4"/>
<circle cx="661" cy="488.1" r="3.1" fill="#4a3b34" opacity="0.4"/>
<circle cx="652.8" cy="489.8" r="2.8" fill="#4a3b34" opacity="0.2"/>
<circle cx="640.2" cy="488.6" r="3.3" fill="#4a3b34" opacity="0.4"/>
<circle cx="651.7" cy="485" r="2.9" fill="#4a3b34" opacity="0.3"/>
<circle cx="650.6" cy="487" r="3" fill="#4a3b34" opacity="0.3"/>
<circle cx="639.8" cy="486.5" r="1.5" fill="#4a3b34" opacity="0.4"/>
<circle cx="645.7" cy="491.6" r="1.4" fill="#4a3b34" opacity="0.3"/>
<circle cx="637.1" cy="489.5" r="2" fill="#4a3b34" opacity="0.4"/>
<circle cx="653.5" cy="490.8" r="2.2" fill="#4a3b34" opacity="0.5"/>
<circle cx="652.9" cy="482.3" r="1.2" fill="#4a3b34" opacity="0.3"/>
<circle cx="646.7" cy="484.8" r="2.4" fill="#4a3b34" opacity="0.3"/>
<circle cx="669.6" cy="488.9" r="3" fill="#4a3b34" opacity="0.3"/>
<circle cx="643.7" cy="485.5" r="2" fill="#4a3b34" opacity="0.4"/>
<circle cx="646.1" cy="491.9" r="2.1" fill="#4a3b34" opacity="0.4"/>
<circle cx="647.8" cy="491" r="2.8" fill="#4a3b34" opacity="0.3"/>
<circle cx="656.5" cy="486" r="2.8" fill="#4a3b34" opacity="0.3"/>
<circle cx="649.4" cy="486.2" r="1.5" fill="#4a3b34" opacity="0.2"/>
<circle cx="643.2" cy="481.7" r="1.6" fill="#4a3b34" opacity="0.3"/>
<circle cx="652.9" cy="482.8" r="1.4" fill="#4a3b34" opacity="0.3"/>
<circle cx="650" cy="489.9" r="2.1" fill="#4a3b34" opacity="0.2"/>
<circle cx="654.5" cy="485.7" r="2.3" fill="#4a3b34" opacity="0.4"/>
<circle cx="649.4" cy="479.7" r="2" fill="#4a3b34" opacity="0.3"/>
<circle cx="646.9" cy="488.4" r="2.1" fill="#4a3b34" opacity="0.4"/>
<circle cx="660.3" cy="487.1" r="2.7" fill="#4a3b34" opacity="0.4"/>
<circle cx="642.7" cy="476.3" r="2" fill="#4a3b34" opacity="0.3"/>
<circle cx="642.3" cy="477.8" r="2.3" fill="#4a3b34" opacity="0.3"/>
<circle cx="641.9" cy="472.3" r="1.5" fill="#4a3b34" opacity="0.3"/>
<circle cx="643.1" cy="473.8" r="2" fill="#4a3b34" opacity="0.3"/>
<circle cx="643" cy="479.7" r="3.4" fill="#4a3b34" opacity="0.3"/>
<circle cx="638.8" cy="470.4" r="1.6" fill="#4a3b34" opacity="0.3"/>
<circle cx="627" cy="431.9" r="1.3" fill="#4a3b34" opacity="0.6"/>
<circle cx="626.3" cy="431.8" r="1.5" fill="#4a3b34" opacity="0.9"/>
<circle cx="626.8" cy="432.7" r="1.3" fill="#4a3b34" opacity="1"/>
</g>
<path d="M609.4 480.1 q-2 0.4 -2.9 2.2" fill="none" stroke="#a9aeb0" stroke-width="0.6" opacity="0.7"/>
<path d="M628.5 480 q-2 -0.4 -3.5 0.9" fill="none" stroke="#a9aeb0" stroke-width="0.6" opacity="0.7"/>
<path d="M573.7 467.4 q-1.9 -0.6 -3.5 0.6" fill="none" stroke="#a9aeb0" stroke-width="0.6" opacity="0.7"/>
<path d="M610.9 487.4 q1.4 1.5 3.4 1.3" fill="none" stroke="#a9aeb0" stroke-width="0.6" opacity="0.7"/>
<path d="M572.8 456 q0.5 2 2.3 2.8" fill="none" stroke="#a9aeb0" stroke-width="0.6" opacity="0.7"/>
<path d="M627 481.2 q1.1 1.7 3.2 1.7" fill="none" stroke="#a9aeb0" stroke-width="0.6" opacity="0.7"/>
<path d="M619.8 452.4 q-1.5 1.4 -1.3 3.4" fill="none" stroke="#a9aeb0" stroke-width="0.6" opacity="0.7"/>
<path d="M579.6 446.1 q-2 -0.1 -3.3 1.4" fill="none" stroke="#a9aeb0" stroke-width="0.6" opacity="0.7"/>
<path d="M584.6 455.9 q-1.8 -0.8 -3.6 0.2" fill="none" stroke="#a9aeb0" stroke-width="0.6" opacity="0.7"/>
<path d="M630 487.1 q0.3 2 2.1 2.9" fill="none" stroke="#a9aeb0" stroke-width="0.6" opacity="0.7"/>
<path d="M593.7 453.6 q1.2 1.6 3.2 1.6" fill="none" stroke="#a9aeb0" stroke-width="0.6" opacity="0.7"/>
<path d="M575.9 459.9 q-1.4 1.4 -1.1 3.4" fill="none" stroke="#a9aeb0" stroke-width="0.6" opacity="0.7"/>
<path d="M572.2 477.2 q0.1 2 1.8 3.1" fill="none" stroke="#a9aeb0" stroke-width="0.6" opacity="0.7"/>
<path d="M590.6 483.7 q-0.8 1.9 0.2 3.6" fill="none" stroke="#a9aeb0" stroke-width="0.6" opacity="0.7"/>
<path d="M590.9 468.1 q-1.8 0.9 -2.2 2.9" fill="none" stroke="#a9aeb0" stroke-width="0.6" opacity="0.7"/>
<path d="M575.4 490.9 q1.7 1 3.6 0.3" fill="none" stroke="#a9aeb0" stroke-width="0.6" opacity="0.7"/>
<path d="M617 484.9 q1.7 1 3.6 0.2" fill="none" stroke="#a9aeb0" stroke-width="0.6" opacity="0.7"/>
<path d="M606.7 446.4 q1.6 1.2 3.6 0.5" fill="none" stroke="#a9aeb0" stroke-width="0.6" opacity="0.7"/>
<path d="M582.9 489.9 q0.9 1.8 2.9 2.1" fill="none" stroke="#a9aeb0" stroke-width="0.6" opacity="0.7"/>
<path d="M617.3 488.8 q-1.9 -0.6 -3.5 0.7" fill="none" stroke="#a9aeb0" stroke-width="0.6" opacity="0.7"/>
<path d="M592.7 462.3 q-1 1.7 -0.3 3.6" fill="none" stroke="#a9aeb0" stroke-width="0.6" opacity="0.7"/>
<path d="M618.5 451 q-1.9 0.6 -2.5 2.6" fill="none" stroke="#a9aeb0" stroke-width="0.6" opacity="0.7"/>
<path d="M619.8 485.5 q1.7 1.1 3.6 0.4" fill="none" stroke="#a9aeb0" stroke-width="0.6" opacity="0.7"/>
<path d="M628.7 450.2 q0.1 2 1.7 3.2" fill="none" stroke="#a9aeb0" stroke-width="0.6" opacity="0.7"/>
<path d="M608.6 488.2 q0.1 2 1.7 3.2" fill="none" stroke="#a9aeb0" stroke-width="0.6" opacity="0.7"/>
<path d="M590.7 460.6 q1.1 1.7 3.1 1.9" fill="none" stroke="#a9aeb0" stroke-width="0.6" opacity="0.7"/>
<path d="M576.7 452.8 q-1.8 1 -2 3" fill="none" stroke="#a9aeb0" stroke-width="0.6" opacity="0.7"/>
<path d="M631.8 453.4 q1.6 1.2 3.6 0.5" fill="none" stroke="#a9aeb0" stroke-width="0.6" opacity="0.7"/>
</g>
<rect x="206.6" y="349.6" width="86.5" height="19.5" rx="9.8" fill="#1f1c1d"/>
<text x="250.8" y="364.9" font-size="14.2" fill="#fff" text-anchor="middle">原核生物類</text>
<rect x="346.4" y="375.6" width="85.9" height="19.9" rx="9.9" fill="#b63231"/>
<text x="390.2" y="391.1" font-size="14.2" fill="#fff" text-anchor="middle">原生生物類</text>
<rect x="549" y="401.3" width="87.2" height="19.5" rx="9.8" fill="#2a7a49"/>
<text x="593.5" y="416.6" font-size="14.2" fill="#fff" text-anchor="middle">後生生物類</text>
</svg>
</body></html>
